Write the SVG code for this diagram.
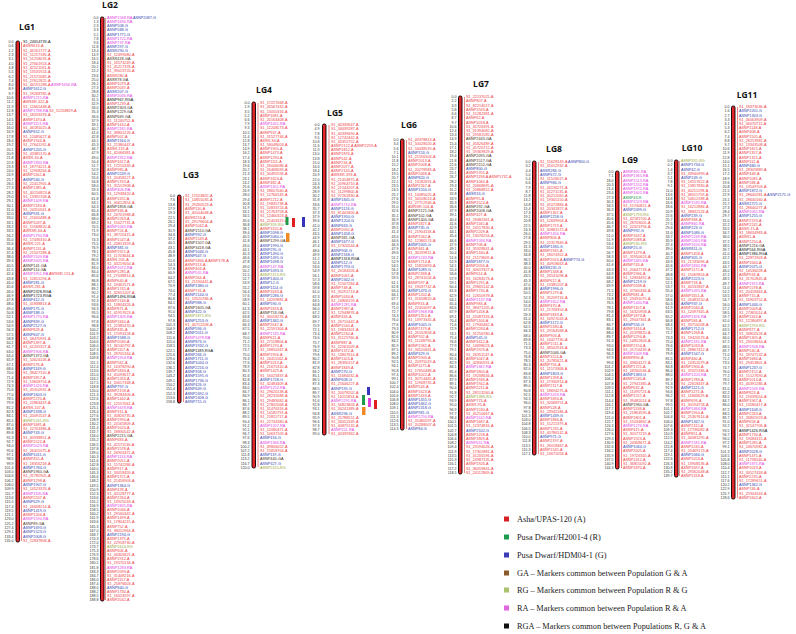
<svg xmlns="http://www.w3.org/2000/svg" width="796" height="634" viewBox="0 0 796 634">
<style>
.t{font-family:"Open Sans","Liberation Sans",sans-serif;font-weight:bold;font-size:8.5px;fill:#111;text-anchor:middle}
.N{font-family:"Liberation Sans",Arial,sans-serif;font-size:3.6px;fill:#333;text-anchor:end}
.L{font-family:"Liberation Sans",Arial,sans-serif;font-size:3.8px;fill:#ee3a3f}
.b{fill:#3a3fb0}.m{fill:#e03de0}.k{fill:#111}.o{fill:#9aa63a}.g{fill:#23974a}.c{fill:#4a2e16}
.bar{fill:#e2262c;stroke:#000;stroke-width:0.9}
.cn{stroke:#e8383d;stroke-width:0.6}
.lg{font-family:"Liberation Serif","Times New Roman",serif;font-size:8.3px;fill:#222}
</style>
<rect width="796" height="634" fill="#fff"/>
<g id="connectors">
<line class="cn" x1="21.5" y1="42" x2="21.5" y2="541"/>
<line class="cn" x1="105.5" y1="18" x2="105.5" y2="600"/>
<line class="cn" x1="183.5" y1="196" x2="183.5" y2="402"/>
<line class="cn" x1="258" y1="103" x2="258" y2="467"/>
<line class="cn" x1="329" y1="125" x2="329" y2="434"/>
<line class="cn" x1="406.5" y1="140" x2="406.5" y2="429"/>
<line class="cn" x1="464.5" y1="97" x2="464.5" y2="473"/>
<line class="cn" x1="538.5" y1="162" x2="538.5" y2="454"/>
<line class="cn" x1="621.5" y1="172" x2="621.5" y2="468"/>
<line class="cn" x1="679.5" y1="161" x2="679.5" y2="476"/>
<line class="cn" x1="737.5" y1="107" x2="737.5" y2="498"/>
</g>
<g id="lg1">
<text class="t" x="27" y="30">LG1</text>
<rect class="bar" x="16" y="41" width="3.5" height="501" rx="1.5"/>
<text class="N" transform="translate(13.5,38.9)"><tspan x="0" dy="4.3">0.0</tspan><tspan x="0" dy="4.3">0.6</tspan><tspan x="0" dy="4.3">1.2</tspan><tspan x="0" dy="4.3">2.3</tspan><tspan x="0" dy="4.3">3.1</tspan><tspan x="0" dy="4.3">4.0</tspan><tspan x="0" dy="4.3">4.8</tspan><tspan x="0" dy="4.3">5.5</tspan><tspan x="0" dy="4.3">6.2</tspan><tspan x="0" dy="4.3">7.4</tspan><tspan x="0" dy="4.3">8.0</tspan><tspan x="0" dy="4.3">8.9</tspan><tspan x="0" dy="4.3">9.7</tspan><tspan x="0" dy="4.3">10.6</tspan><tspan x="0" dy="4.3">11.2</tspan><tspan x="0" dy="4.3">11.9</tspan><tspan x="0" dy="4.3">12.8</tspan><tspan x="0" dy="4.3">13.7</tspan><tspan x="0" dy="4.3">14.5</tspan><tspan x="0" dy="4.3">15.2</tspan><tspan x="0" dy="4.3">16.0</tspan><tspan x="0" dy="4.3">16.9</tspan><tspan x="0" dy="4.3">17.8</tspan><tspan x="0" dy="4.3">18.4</tspan><tspan x="0" dy="4.3">19.2</tspan><tspan x="0" dy="4.3">20.1</tspan><tspan x="0" dy="4.3">20.9</tspan><tspan x="0" dy="4.3">21.8</tspan><tspan x="0" dy="4.3">22.6</tspan><tspan x="0" dy="4.3">23.3</tspan><tspan x="0" dy="4.3">24.0</tspan><tspan x="0" dy="4.3">24.9</tspan><tspan x="0" dy="4.3">25.7</tspan><tspan x="0" dy="4.3">26.5</tspan><tspan x="0" dy="4.3">27.3</tspan><tspan x="0" dy="4.3">28.2</tspan><tspan x="0" dy="4.3">29.0</tspan><tspan x="0" dy="4.3">29.1</tspan><tspan x="0" dy="4.3">30.1</tspan><tspan x="0" dy="4.3">31.0</tspan><tspan x="0" dy="4.3">32.0</tspan><tspan x="0" dy="4.3">33.0</tspan><tspan x="0" dy="4.3">33.1</tspan><tspan x="0" dy="4.3">33.2</tspan><tspan x="0" dy="4.3">33.5</tspan><tspan x="0" dy="4.3">34.2</tspan><tspan x="0" dy="4.3">35.0</tspan><tspan x="0" dy="4.3">35.6</tspan><tspan x="0" dy="4.3">36.4</tspan><tspan x="0" dy="4.3">37.4</tspan><tspan x="0" dy="4.3">38.0</tspan><tspan x="0" dy="4.3">39.3</tspan><tspan x="0" dy="4.3">40.5</tspan><tspan x="0" dy="4.3">41.5</tspan><tspan x="0" dy="4.3">42.4</tspan><tspan x="0" dy="4.3">43.8</tspan><tspan x="0" dy="4.3">44.0</tspan><tspan x="0" dy="4.3">45.6</tspan><tspan x="0" dy="4.3">46.0</tspan><tspan x="0" dy="4.3">46.9</tspan><tspan x="0" dy="4.3">47.8</tspan><tspan x="0" dy="4.3">48.0</tspan><tspan x="0" dy="4.3">49.0</tspan><tspan x="0" dy="4.3">50.8</tspan><tspan x="0" dy="4.3">52.1</tspan><tspan x="0" dy="4.3">53.6</tspan><tspan x="0" dy="4.3">54.9</tspan><tspan x="0" dy="4.3">56.3</tspan><tspan x="0" dy="4.3">57.5</tspan><tspan x="0" dy="4.3">58.8</tspan><tspan x="0" dy="4.3">60.2</tspan><tspan x="0" dy="4.3">61.7</tspan><tspan x="0" dy="4.3">63.0</tspan><tspan x="0" dy="4.3">64.4</tspan><tspan x="0" dy="4.3">65.9</tspan><tspan x="0" dy="4.3">67.1</tspan><tspan x="0" dy="4.3">68.6</tspan><tspan x="0" dy="4.3">70.0</tspan><tspan x="0" dy="4.3">71.4</tspan><tspan x="0" dy="4.3">72.9</tspan><tspan x="0" dy="4.3">74.3</tspan><tspan x="0" dy="4.3">75.6</tspan><tspan x="0" dy="4.3">77.0</tspan><tspan x="0" dy="4.3">78.5</tspan><tspan x="0" dy="4.3">79.9</tspan><tspan x="0" dy="4.3">81.2</tspan><tspan x="0" dy="4.3">82.8</tspan><tspan x="0" dy="4.3">84.1</tspan><tspan x="0" dy="4.3">85.5</tspan><tspan x="0" dy="4.3">87.0</tspan><tspan x="0" dy="4.3">88.4</tspan><tspan x="0" dy="4.3">89.8</tspan><tspan x="0" dy="4.3">91.3</tspan><tspan x="0" dy="4.3">92.7</tspan><tspan x="0" dy="4.3">94.0</tspan><tspan x="0" dy="4.3">95.6</tspan><tspan x="0" dy="4.3">97.1</tspan><tspan x="0" dy="4.3">98.5</tspan><tspan x="0" dy="4.3">99.9</tspan><tspan x="0" dy="4.3">101.4</tspan><tspan x="0" dy="4.3">103.0</tspan><tspan x="0" dy="4.3">104.6</tspan><tspan x="0" dy="4.3">106.2</tspan><tspan x="0" dy="4.3">108.0</tspan><tspan x="0" dy="4.3">109.9</tspan><tspan x="0" dy="4.3">111.7</tspan><tspan x="0" dy="4.3">113.6</tspan><tspan x="0" dy="4.3">115.5</tspan><tspan x="0" dy="4.3">117.4</tspan><tspan x="0" dy="4.3">119.5</tspan><tspan x="0" dy="4.3">121.1</tspan><tspan x="0" dy="4.3">123.0</tspan><tspan x="0" dy="4.3">125.2</tspan><tspan x="0" dy="4.3">127.4</tspan><tspan x="0" dy="4.3">129.1</tspan><tspan x="0" dy="4.3">133.4</tspan><tspan x="0" dy="4.3">135.0</tspan></text>
<text class="L" transform="translate(23,38.9)">
<tspan x="0" dy="4.3" class="k">S1_24654739-A</tspan>
<tspan x="0" dy="4.3">ASSR613-A</tspan>
<tspan x="0" dy="4.3">S1_46161727-A</tspan>
<tspan x="0" dy="4.3">S1_51257180-A</tspan>
<tspan x="0" dy="4.3">S1_51258076-A</tspan>
<tspan x="0" dy="4.3">S1_27601924-A</tspan>
<tspan x="0" dy="4.3">S1_42521161-A</tspan>
<tspan x="0" dy="4.3">S1_13531924-A</tspan>
<tspan x="0" dy="4.3">S1_21572082-A</tspan>
<tspan x="0" dy="4.3">S1_27612825-A</tspan>
<tspan x="0" dy="4.3">S1_46191288-A <tspan class="m">ASNP1656-RA</tspan></tspan>
<tspan x="0" dy="4.3" class="b">ASNP1612-G</tspan>
<tspan x="0" dy="4.3">S1_19268785-A</tspan>
<tspan x="0" dy="4.3" class="m">ASNP1215-RA</tspan>
<tspan x="0" dy="4.3">AWSSR-322-A</tspan>
<tspan x="0" dy="4.3">S1_12665448-A</tspan>
<tspan x="0" dy="4.3"><tspan class="m">ASNP1788-RA</tspan> S1_51258829-A</tspan>
<tspan x="0" dy="4.3">S1_18203376-A</tspan>
<tspan x="0" dy="4.3">ASNP1470-A</tspan>
<tspan x="0" dy="4.3" class="m">ASNP1151-RA</tspan>
<tspan x="0" dy="4.3">S1_46181025-A</tspan>
<tspan x="0" dy="4.3" class="b">ASNP652-G</tspan>
<tspan x="0" dy="4.3">S1_12085627-A</tspan>
<tspan x="0" dy="4.3">ASNP1944-A</tspan>
<tspan x="0" dy="4.3">S1_27641192-A</tspan>
<tspan x="0" dy="4.3" class="b">ASNP1205-G</tspan>
<tspan x="0" dy="4.3">S1_43385170-A</tspan>
<tspan x="0" dy="4.3">ASSR-30-A</tspan>
<tspan x="0" dy="4.3" class="m">ASNP1830-RA</tspan>
<tspan x="0" dy="4.3">S1_18774221-A</tspan>
<tspan x="0" dy="4.3">S1_12908264-A</tspan>
<tspan x="0" dy="4.3">ASNP1162-A</tspan>
<tspan x="0" dy="4.3" class="b">ASNP540-G</tspan>
<tspan x="0" dy="4.3">S1_22412905-A</tspan>
<tspan x="0" dy="4.3">ASNP1385-A</tspan>
<tspan x="0" dy="4.3">S1_40156823-A</tspan>
<tspan x="0" dy="4.3">S1_13392708-A</tspan>
<tspan x="0" dy="4.3" class="m">ASNP1409-RA</tspan>
<tspan x="0" dy="4.3">ASNP2184-A</tspan>
<tspan x="0" dy="4.3">S1_24310561-A</tspan>
<tspan x="0" dy="4.3" class="b">ASNP931-G</tspan>
<tspan x="0" dy="4.3">S1_21600488-A</tspan>
<tspan x="0" dy="4.3">ASNP1037-A</tspan>
<tspan x="0" dy="4.3">S1_15568820-A</tspan>
<tspan x="0" dy="4.3">AWSSR-66-A</tspan>
<tspan x="0" dy="4.3" class="m">ASNP1790-RA</tspan>
<tspan x="0" dy="4.3">S1_17436310-A</tspan>
<tspan x="0" dy="4.3">ASSR-221-A</tspan>
<tspan x="0" dy="4.3">ASNP1231-A</tspan>
<tspan x="0" dy="4.3">S1_21507288-A</tspan>
<tspan x="0" dy="4.3" class="m">ASNP2109-RA</tspan>
<tspan x="0" dy="4.3" class="m">ASNP2005-RA</tspan>
<tspan x="0" dy="4.3" class="c">ASNP141-GA</tspan>
<tspan x="0" dy="4.3" class="c">ASNP114-GA</tspan>
<tspan x="0" dy="4.3"><tspan class="m">ASNP1951-RA</tspan> AWSSR-151-A</tspan>
<tspan x="0" dy="4.3">S1_12651294-A</tspan>
<tspan x="0" dy="4.3" class="b">ASNP281-G</tspan>
<tspan x="0" dy="4.3">ASSR-281-A</tspan>
<tspan x="0" dy="4.3" class="k">ASNP2328-RGA</tspan>
<tspan x="0" dy="4.3" class="k">ASNP1723-RGA</tspan>
<tspan x="0" dy="4.3" class="b">ASNP412-G</tspan>
<tspan x="0" dy="4.3">S1_41838813-A</tspan>
<tspan x="0" dy="4.3" class="b">ASNP175-G</tspan>
<tspan x="0" dy="4.3" class="b">ASNP188-G</tspan>
<tspan x="0" dy="4.3" class="m">ASNP1770-RA</tspan>
<tspan x="0" dy="4.3" class="b">ASNP839-G</tspan>
<tspan x="0" dy="4.3" class="b">ASNP2127-G</tspan>
<tspan x="0" dy="4.3">ASNP828-A</tspan>
<tspan x="0" dy="4.3" class="b">ASNP607-G</tspan>
<tspan x="0" dy="4.3">S1_58470991-A</tspan>
<tspan x="0" dy="4.3">ASNP1397-A</tspan>
<tspan x="0" dy="4.3">S1_61205327-A</tspan>
<tspan x="0" dy="4.3" class="m">ASNP1906-RA</tspan>
<tspan x="0" dy="4.3" class="c">ASNP1372-GA</tspan>
<tspan x="0" dy="4.3">S1_10624118-A</tspan>
<tspan x="0" dy="4.3">ASNP276-A</tspan>
<tspan x="0" dy="4.3" class="b">ASNP1149-G</tspan>
<tspan x="0" dy="4.3">S1_38427110-A</tspan>
<tspan x="0" dy="4.3">ASNP1857-A</tspan>
<tspan x="0" dy="4.3">S1_13608754-A</tspan>
<tspan x="0" dy="4.3" class="m">ASNP1426-RA</tspan>
<tspan x="0" dy="4.3">S1_45310932-A</tspan>
<tspan x="0" dy="4.3" class="b">ASNP1603-G</tspan>
<tspan x="0" dy="4.3">ASNP2270-A</tspan>
<tspan x="0" dy="4.3">S1_22864419-A</tspan>
<tspan x="0" dy="4.3">ASSR-107-A</tspan>
<tspan x="0" dy="4.3" class="b">ASNP1338-G</tspan>
<tspan x="0" dy="4.3">S1_20091547-A</tspan>
<tspan x="0" dy="4.3" class="o">ASNP1241-RG</tspan>
<tspan x="0" dy="4.3">ASNP1681-A</tspan>
<tspan x="0" dy="4.3">S1_12703386-A</tspan>
<tspan x="0" dy="4.3" class="b">ASNP743-G</tspan>
<tspan x="0" dy="4.3">S1_40938851-A</tspan>
<tspan x="0" dy="4.3">ASNP1522-A</tspan>
<tspan x="0" dy="4.3" class="m">ASNP2023-RA</tspan>
<tspan x="0" dy="4.3">S1_26411075-A</tspan>
<tspan x="0" dy="4.3" class="b">ASNP1011-G</tspan>
<tspan x="0" dy="4.3">ASNP455-A</tspan>
<tspan x="0" dy="4.3">S1_18356218-A</tspan>
<tspan x="0" dy="4.3" class="b">ASNP1784-G</tspan>
<tspan x="0" dy="4.3" class="c">ASNP1960-GA</tspan>
<tspan x="0" dy="4.3">S1_31782905-A</tspan>
<tspan x="0" dy="4.3">ASNP1298-A</tspan>
<tspan x="0" dy="4.3" class="b">ASNP1907-G</tspan>
<tspan x="0" dy="4.3">S1_14523376-A</tspan>
<tspan x="0" dy="4.3" class="m">ASNP1116-RA</tspan>
<tspan x="0" dy="4.3">ASNP2207-A</tspan>
<tspan x="0" dy="4.3" class="b">ASNP629-G</tspan>
<tspan x="0" dy="4.3">S1_16608214-A</tspan>
<tspan x="0" dy="4.3" class="b">ASNP1419-G</tspan>
<tspan x="0" dy="4.3">ASNP1204-A</tspan>
<tspan x="0" dy="4.3" class="m">ASNP1590-RA</tspan>
<tspan x="0" dy="4.3" class="c">ASNP89-GA</tspan>
<tspan x="0" dy="4.3" class="b">ASNP1693-G</tspan>
<tspan x="0" dy="4.3" class="b">ASNP1523-G</tspan>
<tspan x="0" dy="4.3" class="b">ASNP2008-G</tspan>
<tspan x="0" dy="4.3">S1_12837808-A</tspan>
</text>
</g>
<g id="lg2">
<text class="t" x="110" y="8">LG2</text>
<rect class="bar" x="100.5" y="17" width="3.5" height="584" rx="1.5"/>
<text class="N" transform="translate(98.5,15.1)"><tspan x="0" dy="4.1">0.0</tspan><tspan x="0" dy="4.1">1.3</tspan><tspan x="0" dy="4.1">2.3</tspan><tspan x="0" dy="4.1">3.3</tspan><tspan x="0" dy="4.1">5.1</tspan><tspan x="0" dy="4.1">7.8</tspan><tspan x="0" dy="4.1">9.6</tspan><tspan x="0" dy="4.1">11.8</tspan><tspan x="0" dy="4.1">13.4</tspan><tspan x="0" dy="4.1">14.9</tspan><tspan x="0" dy="4.1">16.5</tspan><tspan x="0" dy="4.1">18.4</tspan><tspan x="0" dy="4.1">20.1</tspan><tspan x="0" dy="4.1">22.2</tspan><tspan x="0" dy="4.1">23.6</tspan><tspan x="0" dy="4.1">25.0</tspan><tspan x="0" dy="4.1">26.1</tspan><tspan x="0" dy="4.1">27.3</tspan><tspan x="0" dy="4.1">28.8</tspan><tspan x="0" dy="4.1">30.2</tspan><tspan x="0" dy="4.1">31.5</tspan><tspan x="0" dy="4.1">32.9</tspan><tspan x="0" dy="4.1">34.0</tspan><tspan x="0" dy="4.1">35.3</tspan><tspan x="0" dy="4.1">36.6</tspan><tspan x="0" dy="4.1">37.9</tspan><tspan x="0" dy="4.1">39.1</tspan><tspan x="0" dy="4.1">40.2</tspan><tspan x="0" dy="4.1">41.6</tspan><tspan x="0" dy="4.1">42.8</tspan><tspan x="0" dy="4.1">44.1</tspan><tspan x="0" dy="4.1">45.3</tspan><tspan x="0" dy="4.1">46.7</tspan><tspan x="0" dy="4.1">47.9</tspan><tspan x="0" dy="4.1">49.0</tspan><tspan x="0" dy="4.1">50.4</tspan><tspan x="0" dy="4.1">51.7</tspan><tspan x="0" dy="4.1">52.9</tspan><tspan x="0" dy="4.1">54.2</tspan><tspan x="0" dy="4.1">55.6</tspan><tspan x="0" dy="4.1">56.8</tspan><tspan x="0" dy="4.1">58.0</tspan><tspan x="0" dy="4.1">59.3</tspan><tspan x="0" dy="4.1">60.5</tspan><tspan x="0" dy="4.1">61.8</tspan><tspan x="0" dy="4.1">63.1</tspan><tspan x="0" dy="4.1">64.3</tspan><tspan x="0" dy="4.1">65.4</tspan><tspan x="0" dy="4.1">66.8</tspan><tspan x="0" dy="4.1">68.0</tspan><tspan x="0" dy="4.1">69.2</tspan><tspan x="0" dy="4.1">70.5</tspan><tspan x="0" dy="4.1">71.9</tspan><tspan x="0" dy="4.1">73.0</tspan><tspan x="0" dy="4.1">74.3</tspan><tspan x="0" dy="4.1">75.5</tspan><tspan x="0" dy="4.1">76.9</tspan><tspan x="0" dy="4.1">78.1</tspan><tspan x="0" dy="4.1">79.2</tspan><tspan x="0" dy="4.1">80.6</tspan><tspan x="0" dy="4.1">81.9</tspan><tspan x="0" dy="4.1">83.0</tspan><tspan x="0" dy="4.1">84.4</tspan><tspan x="0" dy="4.1">85.6</tspan><tspan x="0" dy="4.1">86.8</tspan><tspan x="0" dy="4.1">88.1</tspan><tspan x="0" dy="4.1">89.2</tspan><tspan x="0" dy="4.1">90.2</tspan><tspan x="0" dy="4.1">91.4</tspan><tspan x="0" dy="4.1">92.3</tspan><tspan x="0" dy="4.1">93.6</tspan><tspan x="0" dy="4.1">94.3</tspan><tspan x="0" dy="4.1">95.5</tspan><tspan x="0" dy="4.1">96.6</tspan><tspan x="0" dy="4.1">97.8</tspan><tspan x="0" dy="4.1">98.8</tspan><tspan x="0" dy="4.1">100.2</tspan><tspan x="0" dy="4.1">101.9</tspan><tspan x="0" dy="4.1">103.2</tspan><tspan x="0" dy="4.1">104.6</tspan><tspan x="0" dy="4.1">106.0</tspan><tspan x="0" dy="4.1">107.3</tspan><tspan x="0" dy="4.1">108.5</tspan><tspan x="0" dy="4.1">109.8</tspan><tspan x="0" dy="4.1">111.1</tspan><tspan x="0" dy="4.1">112.4</tspan><tspan x="0" dy="4.1">113.6</tspan><tspan x="0" dy="4.1">115.0</tspan><tspan x="0" dy="4.1">116.2</tspan><tspan x="0" dy="4.1">117.5</tspan><tspan x="0" dy="4.1">118.8</tspan><tspan x="0" dy="4.1">120.0</tspan><tspan x="0" dy="4.1">121.3</tspan><tspan x="0" dy="4.1">122.6</tspan><tspan x="0" dy="4.1">123.8</tspan><tspan x="0" dy="4.1">125.1</tspan><tspan x="0" dy="4.1">126.4</tspan><tspan x="0" dy="4.1">127.6</tspan><tspan x="0" dy="4.1">128.9</tspan><tspan x="0" dy="4.1">130.2</tspan><tspan x="0" dy="4.1">131.4</tspan><tspan x="0" dy="4.1">132.7</tspan><tspan x="0" dy="4.1">134.0</tspan><tspan x="0" dy="4.1">135.2</tspan><tspan x="0" dy="4.1">136.5</tspan><tspan x="0" dy="4.1">137.8</tspan><tspan x="0" dy="4.1">139.0</tspan><tspan x="0" dy="4.1">140.3</tspan><tspan x="0" dy="4.1">141.6</tspan><tspan x="0" dy="4.1">142.8</tspan><tspan x="0" dy="4.1">144.0</tspan><tspan x="0" dy="4.1">145.3</tspan><tspan x="0" dy="4.1">146.6</tspan><tspan x="0" dy="4.1">148.2</tspan><tspan x="0" dy="4.1">149.5</tspan><tspan x="0" dy="4.1">150.9</tspan><tspan x="0" dy="4.1">152.3</tspan><tspan x="0" dy="4.1">153.6</tspan><tspan x="0" dy="4.1">155.2</tspan><tspan x="0" dy="4.1">156.9</tspan><tspan x="0" dy="4.1">158.5</tspan><tspan x="0" dy="4.1">160.2</tspan><tspan x="0" dy="4.1">161.9</tspan><tspan x="0" dy="4.1">163.6</tspan><tspan x="0" dy="4.1">165.3</tspan><tspan x="0" dy="4.1">167.0</tspan><tspan x="0" dy="4.1">168.7</tspan><tspan x="0" dy="4.1">170.3</tspan><tspan x="0" dy="4.1">172.0</tspan><tspan x="0" dy="4.1">173.7</tspan><tspan x="0" dy="4.1">175.3</tspan><tspan x="0" dy="4.1">176.9</tspan><tspan x="0" dy="4.1">178.6</tspan><tspan x="0" dy="4.1">180.2</tspan><tspan x="0" dy="4.1">181.8</tspan><tspan x="0" dy="4.1">183.3</tspan><tspan x="0" dy="4.1">184.7</tspan><tspan x="0" dy="4.1">186.0</tspan><tspan x="0" dy="4.1">187.4</tspan><tspan x="0" dy="4.1">188.0</tspan><tspan x="0" dy="4.1">188.2</tspan><tspan x="0" dy="4.1">188.5</tspan><tspan x="0" dy="4.1">188.8</tspan></text>
<text class="L" transform="translate(107,15.1)">
<tspan x="0" dy="4.1"><tspan class="m">ASNP1568-RA</tspan> <tspan class="b">ASNP2087-G</tspan></tspan>
<tspan x="0" dy="4.1" class="m">ASNP1696-RA</tspan>
<tspan x="0" dy="4.1" class="b">ASNP508-G</tspan>
<tspan x="0" dy="4.1" class="b">ASNP588-G</tspan>
<tspan x="0" dy="4.1" class="b">ASNP1771-G</tspan>
<tspan x="0" dy="4.1" class="m">ASNP1722-RA</tspan>
<tspan x="0" dy="4.1" class="m">ASNP737-RA</tspan>
<tspan x="0" dy="4.1" class="b">ASNP297-G</tspan>
<tspan x="0" dy="4.1" class="b">ASSR290-G</tspan>
<tspan x="0" dy="4.1">S1_12499080-A</tspan>
<tspan x="0" dy="4.1" class="c">ASSR418-GA</tspan>
<tspan x="0" dy="4.1">S1_16573249-A</tspan>
<tspan x="0" dy="4.1">S1_45217376-A</tspan>
<tspan x="0" dy="4.1">S1_39013720-A</tspan>
<tspan x="0" dy="4.1">ASSR280-A</tspan>
<tspan x="0" dy="4.1" class="c">ASSR78-GA</tspan>
<tspan x="0" dy="4.1">ASNP1079-A</tspan>
<tspan x="0" dy="4.1">ASNP2037-A</tspan>
<tspan x="0" dy="4.1" class="b">ASSR207-G</tspan>
<tspan x="0" dy="4.1" class="m">ASNP2036-RA</tspan>
<tspan x="0" dy="4.1" class="k">ASNP967-RGA</tspan>
<tspan x="0" dy="4.1">ASNP1239-A</tspan>
<tspan x="0" dy="4.1" class="c">ASNP2303-GA</tspan>
<tspan x="0" dy="4.1" class="c">ASNP1229-GA</tspan>
<tspan x="0" dy="4.1" class="c">ASNP669-GA</tspan>
<tspan x="0" dy="4.1">S1_11240752-A</tspan>
<tspan x="0" dy="4.1">ASNP1410-A</tspan>
<tspan x="0" dy="4.1" class="m">ASNP2181-RA</tspan>
<tspan x="0" dy="4.1">S1_38801226-A</tspan>
<tspan x="0" dy="4.1">ASNP502-A</tspan>
<tspan x="0" dy="4.1" class="b">ASNP1164-G</tspan>
<tspan x="0" dy="4.1">S1_21380447-A</tspan>
<tspan x="0" dy="4.1">ASSR-119-A</tspan>
<tspan x="0" dy="4.1">S1_42066381-A</tspan>
<tspan x="0" dy="4.1" class="m">ASNP1352-RA</tspan>
<tspan x="0" dy="4.1">ASNP1617-A</tspan>
<tspan x="0" dy="4.1">S1_17210339-A</tspan>
<tspan x="0" dy="4.1">ASNP985-A</tspan>
<tspan x="0" dy="4.1" class="b">ASNP2249-G</tspan>
<tspan x="0" dy="4.1">S1_20458127-A</tspan>
<tspan x="0" dy="4.1">ASNP1703-A</tspan>
<tspan x="0" dy="4.1">S1_35512908-A</tspan>
<tspan x="0" dy="4.1" class="m">ASNP406-RA</tspan>
<tspan x="0" dy="4.1">S1_12938420-A</tspan>
<tspan x="0" dy="4.1">ASNP1192-A</tspan>
<tspan x="0" dy="4.1">S1_40612854-A</tspan>
<tspan x="0" dy="4.1" class="c">ASNP1858-GA</tspan>
<tspan x="0" dy="4.1">ASNP336-A</tspan>
<tspan x="0" dy="4.1">S1_24701988-A</tspan>
<tspan x="0" dy="4.1">ASNP2263-A</tspan>
<tspan x="0" dy="4.1">S1_15027731-A</tspan>
<tspan x="0" dy="4.1" class="m">ASNP1063-RA</tspan>
<tspan x="0" dy="4.1">ASNP724-A</tspan>
<tspan x="0" dy="4.1">S1_38720415-A</tspan>
<tspan x="0" dy="4.1">ASNP1547-A</tspan>
<tspan x="0" dy="4.1">S1_20813359-A</tspan>
<tspan x="0" dy="4.1" class="b">ASNP381-G</tspan>
<tspan x="0" dy="4.1">ASNP1921-A</tspan>
<tspan x="0" dy="4.1">S1_11703644-A</tspan>
<tspan x="0" dy="4.1">ASSR-205-A</tspan>
<tspan x="0" dy="4.1">S1_43219050-A</tspan>
<tspan x="0" dy="4.1" class="m">ASNP2072-RA</tspan>
<tspan x="0" dy="4.1">ASNP1285-A</tspan>
<tspan x="0" dy="4.1">S1_27038814-A</tspan>
<tspan x="0" dy="4.1">ASNP640-A</tspan>
<tspan x="0" dy="4.1">S1_19462571-A</tspan>
<tspan x="0" dy="4.1">ASNP1745-A</tspan>
<tspan x="0" dy="4.1">S1_32651207-A</tspan>
<tspan x="0" dy="4.1" class="k">ASNP1496-RGA</tspan>
<tspan x="0" dy="4.1">ASNP2118-A</tspan>
<tspan x="0" dy="4.1">S1_13804326-A</tspan>
<tspan x="0" dy="4.1">ASNP871-A</tspan>
<tspan x="0" dy="4.1">S1_41957623-A</tspan>
<tspan x="0" dy="4.1" class="m">ASNP1309-RA</tspan>
<tspan x="0" dy="4.1">ASNP1660-A</tspan>
<tspan x="0" dy="4.1">S1_22385470-A</tspan>
<tspan x="0" dy="4.1">ASNP435-A</tspan>
<tspan x="0" dy="4.1">S1_17093158-A</tspan>
<tspan x="0" dy="4.1" class="b">ASNP1588-G</tspan>
<tspan x="0" dy="4.1">ASNP2030-A</tspan>
<tspan x="0" dy="4.1">S1_36140792-A</tspan>
<tspan x="0" dy="4.1">ASNP1117-A</tspan>
<tspan x="0" dy="4.1">S1_28705164-A</tspan>
<tspan x="0" dy="4.1" class="m">ASNP1954-RA</tspan>
<tspan x="0" dy="4.1">ASNP562-A</tspan>
<tspan x="0" dy="4.1">S1_14378290-A</tspan>
<tspan x="0" dy="4.1">ASNP1834-A</tspan>
<tspan x="0" dy="4.1">S1_45093617-A</tspan>
<tspan x="0" dy="4.1">ASNP1263-A</tspan>
<tspan x="0" dy="4.1">S1_20617348-A</tspan>
<tspan x="0" dy="4.1" class="b">ASNP797-G</tspan>
<tspan x="0" dy="4.1">ASNP2158-A</tspan>
<tspan x="0" dy="4.1">S1_39284406-A</tspan>
<tspan x="0" dy="4.1">ASNP1442-A</tspan>
<tspan x="0" dy="4.1">S1_12557061-A</tspan>
<tspan x="0" dy="4.1" class="m">ASNP1678-RA</tspan>
<tspan x="0" dy="4.1">ASNP311-A</tspan>
<tspan x="0" dy="4.1">S1_30826735-A</tspan>
<tspan x="0" dy="4.1">ASNP1990-A</tspan>
<tspan x="0" dy="4.1">S1_24165809-A</tspan>
<tspan x="0" dy="4.1">ASNP1024-A</tspan>
<tspan x="0" dy="4.1">S1_18830542-A</tspan>
<tspan x="0" dy="4.1" class="c">ASNP2215-GA</tspan>
<tspan x="0" dy="4.1">ASNP683-A</tspan>
<tspan x="0" dy="4.1">S1_42571130-A</tspan>
<tspan x="0" dy="4.1">ASNP1578-A</tspan>
<tspan x="0" dy="4.1">S1_26903471-A</tspan>
<tspan x="0" dy="4.1" class="m">ASNP1133-RA</tspan>
<tspan x="0" dy="4.1">ASNP2051-A</tspan>
<tspan x="0" dy="4.1">S1_15742286-A</tspan>
<tspan x="0" dy="4.1">ASNP917-A</tspan>
<tspan x="0" dy="4.1">S1_33018459-A</tspan>
<tspan x="0" dy="4.1">ASNP1721-A</tspan>
<tspan x="0" dy="4.1">S1_21456903-A</tspan>
<tspan x="0" dy="4.1" class="b">ASNP1364-G</tspan>
<tspan x="0" dy="4.1">ASNP478-A</tspan>
<tspan x="0" dy="4.1">S1_40128777-A</tspan>
<tspan x="0" dy="4.1">ASNP2264-A</tspan>
<tspan x="0" dy="4.1">S1_13925018-A</tspan>
<tspan x="0" dy="4.1" class="m">ASNP1805-RA</tspan>
<tspan x="0" dy="4.1">ASNP1046-A</tspan>
<tspan x="0" dy="4.1">S1_29560342-A</tspan>
<tspan x="0" dy="4.1">ASNP1499-A</tspan>
<tspan x="0" dy="4.1">S1_17804215-A</tspan>
<tspan x="0" dy="4.1">ASNP752-A</tspan>
<tspan x="0" dy="4.1">S1_38012964-A</tspan>
<tspan x="0" dy="4.1" class="b">ASNP2194-G</tspan>
<tspan x="0" dy="4.1">ASNP1375-A</tspan>
<tspan x="0" dy="4.1">S1_22918730-A</tspan>
<tspan x="0" dy="4.1" class="o">ASNP1624-RG</tspan>
<tspan x="0" dy="4.1">ASNP606-A</tspan>
<tspan x="0" dy="4.1">S1_44305821-A</tspan>
<tspan x="0" dy="4.1">ASNP1912-A</tspan>
<tspan x="0" dy="4.1">S1_19570134-A</tspan>
<tspan x="0" dy="4.1" class="m">ASNP1283-RA</tspan>
<tspan x="0" dy="4.1">ASNP2099-A</tspan>
<tspan x="0" dy="4.1">S1_31408216-A</tspan>
<tspan x="0" dy="4.1">ASNP1157-A</tspan>
<tspan x="0" dy="4.1">S1_25876603-A</tspan>
<tspan x="0" dy="4.1" class="b">ASNP840-G</tspan>
<tspan x="0" dy="4.1">ASNP1730-A</tspan>
<tspan x="0" dy="4.1">S1_16024597-A</tspan>
<tspan x="0" dy="4.1">ASNP2042-A</tspan>
</text>
</g>
<g id="lg3">
<text class="t" x="191" y="178">LG3</text>
<rect class="bar" x="177.5" y="195" width="3.5" height="208" rx="1.5"/>
<text class="N" transform="translate(175,192.9)"><tspan x="0" dy="4.29">0.0</tspan><tspan x="0" dy="4.29">7.6</tspan><tspan x="0" dy="4.29">13.8</tspan><tspan x="0" dy="4.29">17.9</tspan><tspan x="0" dy="4.29">19.3</tspan><tspan x="0" dy="4.29">22.5</tspan><tspan x="0" dy="4.29">26.1</tspan><tspan x="0" dy="4.29">29.4</tspan><tspan x="0" dy="4.29">31.9</tspan><tspan x="0" dy="4.29">34.6</tspan><tspan x="0" dy="4.29">37.2</tspan><tspan x="0" dy="4.29">40.5</tspan><tspan x="0" dy="4.29">43.1</tspan><tspan x="0" dy="4.29">45.8</tspan><tspan x="0" dy="4.29">48.9</tspan><tspan x="0" dy="4.29">51.6</tspan><tspan x="0" dy="4.29">54.3</tspan><tspan x="0" dy="4.29">57.8</tspan><tspan x="0" dy="4.29">60.9</tspan><tspan x="0" dy="4.29">64.2</tspan><tspan x="0" dy="4.29">67.5</tspan><tspan x="0" dy="4.29">70.9</tspan><tspan x="0" dy="4.29">74.0</tspan><tspan x="0" dy="4.29">77.4</tspan><tspan x="0" dy="4.29">80.8</tspan><tspan x="0" dy="4.29">84.1</tspan><tspan x="0" dy="4.29">87.6</tspan><tspan x="0" dy="4.29">91.0</tspan><tspan x="0" dy="4.29">94.5</tspan><tspan x="0" dy="4.29">97.8</tspan><tspan x="0" dy="4.29">101.3</tspan><tspan x="0" dy="4.29">104.9</tspan><tspan x="0" dy="4.29">108.2</tspan><tspan x="0" dy="4.29">111.6</tspan><tspan x="0" dy="4.29">115.0</tspan><tspan x="0" dy="4.29">118.5</tspan><tspan x="0" dy="4.29">122.1</tspan><tspan x="0" dy="4.29">125.6</tspan><tspan x="0" dy="4.29">129.0</tspan><tspan x="0" dy="4.29">132.6</tspan><tspan x="0" dy="4.29">136.1</tspan><tspan x="0" dy="4.29">139.7</tspan><tspan x="0" dy="4.29">143.2</tspan><tspan x="0" dy="4.29">149.1</tspan><tspan x="0" dy="4.29">150.2</tspan><tspan x="0" dy="4.29">151.4</tspan><tspan x="0" dy="4.29">152.3</tspan><tspan x="0" dy="4.29">153.6</tspan><tspan x="0" dy="4.29">158.8</tspan></text>
<text class="L" transform="translate(185,192.9)">
<tspan x="0" dy="4.29">S1_17024802-A</tspan>
<tspan x="0" dy="4.29">S1_14855035-A</tspan>
<tspan x="0" dy="4.29">S1_29260529-A</tspan>
<tspan x="0" dy="4.29">ASNP110-A</tspan>
<tspan x="0" dy="4.29">S1_40104048-A</tspan>
<tspan x="0" dy="4.29">ASSR213-A</tspan>
<tspan x="0" dy="4.29">S1_29176604-A</tspan>
<tspan x="0" dy="4.29">ASNP1042-A</tspan>
<tspan x="0" dy="4.29" class="c">ASNP1510-GA</tspan>
<tspan x="0" dy="4.29" class="b">ASNP992-G</tspan>
<tspan x="0" dy="4.29">ASNP1549-A</tspan>
<tspan x="0" dy="4.29" class="c">ASNP1507-GA</tspan>
<tspan x="0" dy="4.29" class="c">ASNP3418-GA</tspan>
<tspan x="0" dy="4.29" class="b">ASNP1046-G</tspan>
<tspan x="0" dy="4.29" class="b">ASNP647-G</tspan>
<tspan x="0" dy="4.29">ASNP1666-A ASNP178-A</tspan>
<tspan x="0" dy="4.29">ASNP313-A</tspan>
<tspan x="0" dy="4.29">ASNP403-A</tspan>
<tspan x="0" dy="4.29" class="m">ASNP505-RA</tspan>
<tspan x="0" dy="4.29">ASNP264-A</tspan>
<tspan x="0" dy="4.29">S1_21190441-A</tspan>
<tspan x="0" dy="4.29" class="b">ASNP1380-G</tspan>
<tspan x="0" dy="4.29">ASNP731-A</tspan>
<tspan x="0" dy="4.29" class="b">ASNP2144-G</tspan>
<tspan x="0" dy="4.29">S1_13520786-A</tspan>
<tspan x="0" dy="4.29" class="b">ASNP988-G</tspan>
<tspan x="0" dy="4.29" class="c">ASNP1605-GA</tspan>
<tspan x="0" dy="4.29" class="b">ASNP422-G</tspan>
<tspan x="0" dy="4.29" class="o">ASNP1871-RG</tspan>
<tspan x="0" dy="4.29" class="b">ASNP1253-G</tspan>
<tspan x="0" dy="4.29">S1_40712208-A</tspan>
<tspan x="0" dy="4.29" class="b">ASNP596-G</tspan>
<tspan x="0" dy="4.29" class="b">ASNP2011-G</tspan>
<tspan x="0" dy="4.29" class="m">ASNP1478-RA</tspan>
<tspan x="0" dy="4.29" class="b">ASNP873-G</tspan>
<tspan x="0" dy="4.29" class="b">ASNP1932-G</tspan>
<tspan x="0" dy="4.29" class="k">ASNP1189-RGA</tspan>
<tspan x="0" dy="4.29" class="b">ASNP266-G</tspan>
<tspan x="0" dy="4.29" class="b">ASNP1711-G</tspan>
<tspan x="0" dy="4.29" class="b">ASNP1044-G</tspan>
<tspan x="0" dy="4.29" class="b">ASNP2216-G</tspan>
<tspan x="0" dy="4.29" class="b">ASNP358-G</tspan>
<tspan x="0" dy="4.29" class="b">ASNP1595-G</tspan>
<tspan x="0" dy="4.29" class="b">ASNP1736-G</tspan>
<tspan x="0" dy="4.29" class="b">ASNP426-G</tspan>
<tspan x="0" dy="4.29" class="b">ASNP649-G</tspan>
<tspan x="0" dy="4.29" class="b">ASNP2492-G</tspan>
<tspan x="0" dy="4.29" class="b">ASNP2408-G</tspan>
<tspan x="0" dy="4.29" class="b">ASNP715-G</tspan>
</text>
</g>
<g id="lg4">
<text class="t" x="264" y="93">LG4</text>
<rect class="bar" x="252" y="102" width="3.5" height="366" rx="1.5"/>
<text class="N" transform="translate(249.5,100)"><tspan x="0" dy="4.19">0.0</tspan><tspan x="0" dy="4.19">1.9</tspan><tspan x="0" dy="4.19">3.5</tspan><tspan x="0" dy="4.19">5.2</tspan><tspan x="0" dy="4.19">6.6</tspan><tspan x="0" dy="4.19">7.9</tspan><tspan x="0" dy="4.19">9.3</tspan><tspan x="0" dy="4.19">10.5</tspan><tspan x="0" dy="4.19">11.4</tspan><tspan x="0" dy="4.19">12.8</tspan><tspan x="0" dy="4.19">13.7</tspan><tspan x="0" dy="4.19">14.9</tspan><tspan x="0" dy="4.19">16.2</tspan><tspan x="0" dy="4.19">17.4</tspan><tspan x="0" dy="4.19">18.3</tspan><tspan x="0" dy="4.19">19.6</tspan><tspan x="0" dy="4.19">20.7</tspan><tspan x="0" dy="4.19">21.3</tspan><tspan x="0" dy="4.19">23.1</tspan><tspan x="0" dy="4.19">24.2</tspan><tspan x="0" dy="4.19">25.6</tspan><tspan x="0" dy="4.19">26.9</tspan><tspan x="0" dy="4.19">28.0</tspan><tspan x="0" dy="4.19">29.4</tspan><tspan x="0" dy="4.19">30.8</tspan><tspan x="0" dy="4.19">31.9</tspan><tspan x="0" dy="4.19">33.1</tspan><tspan x="0" dy="4.19">34.5</tspan><tspan x="0" dy="4.19">35.6</tspan><tspan x="0" dy="4.19">36.8</tspan><tspan x="0" dy="4.19">38.1</tspan><tspan x="0" dy="4.19">39.4</tspan><tspan x="0" dy="4.19">40.5</tspan><tspan x="0" dy="4.19">41.8</tspan><tspan x="0" dy="4.19">43.0</tspan><tspan x="0" dy="4.19">44.1</tspan><tspan x="0" dy="4.19">45.3</tspan><tspan x="0" dy="4.19">46.6</tspan><tspan x="0" dy="4.19">47.8</tspan><tspan x="0" dy="4.19">49.0</tspan><tspan x="0" dy="4.19">50.2</tspan><tspan x="0" dy="4.19">51.5</tspan><tspan x="0" dy="4.19">52.7</tspan><tspan x="0" dy="4.19">53.9</tspan><tspan x="0" dy="4.19">55.2</tspan><tspan x="0" dy="4.19">56.4</tspan><tspan x="0" dy="4.19">57.6</tspan><tspan x="0" dy="4.19">58.9</tspan><tspan x="0" dy="4.19">60.1</tspan><tspan x="0" dy="4.19">61.3</tspan><tspan x="0" dy="4.19">62.5</tspan><tspan x="0" dy="4.19">63.8</tspan><tspan x="0" dy="4.19">65.0</tspan><tspan x="0" dy="4.19">66.3</tspan><tspan x="0" dy="4.19">67.5</tspan><tspan x="0" dy="4.19">68.7</tspan><tspan x="0" dy="4.19">70.0</tspan><tspan x="0" dy="4.19">71.2</tspan><tspan x="0" dy="4.19">72.5</tspan><tspan x="0" dy="4.19">73.7</tspan><tspan x="0" dy="4.19">75.0</tspan><tspan x="0" dy="4.19">76.3</tspan><tspan x="0" dy="4.19">77.6</tspan><tspan x="0" dy="4.19">78.9</tspan><tspan x="0" dy="4.19">80.3</tspan><tspan x="0" dy="4.19">81.6</tspan><tspan x="0" dy="4.19">82.8</tspan><tspan x="0" dy="4.19">83.4</tspan><tspan x="0" dy="4.19">84.0</tspan><tspan x="0" dy="4.19">84.7</tspan><tspan x="0" dy="4.19">84.9</tspan><tspan x="0" dy="4.19">86.1</tspan><tspan x="0" dy="4.19">86.7</tspan><tspan x="0" dy="4.19">87.6</tspan><tspan x="0" dy="4.19">88.2</tspan><tspan x="0" dy="4.19">89.5</tspan><tspan x="0" dy="4.19">90.4</tspan><tspan x="0" dy="4.19">91.2</tspan><tspan x="0" dy="4.19">92.1</tspan><tspan x="0" dy="4.19">96.7</tspan><tspan x="0" dy="4.19">97.6</tspan><tspan x="0" dy="4.19">98.3</tspan><tspan x="0" dy="4.19">100.2</tspan><tspan x="0" dy="4.19">107.2</tspan><tspan x="0" dy="4.19">111.8</tspan><tspan x="0" dy="4.19">113.2</tspan><tspan x="0" dy="4.19">116.7</tspan><tspan x="0" dy="4.19">120.0</tspan></text>
<text class="L" transform="translate(260,100)">
<tspan x="0" dy="4.19">S1_17227068-A</tspan>
<tspan x="0" dy="4.19">S1_26567432-A</tspan>
<tspan x="0" dy="4.19">S1_13050316-A</tspan>
<tspan x="0" dy="4.19">ASNP1681-A</tspan>
<tspan x="0" dy="4.19">S1_20164408-A</tspan>
<tspan x="0" dy="4.19" class="m">ASNP1401-RA</tspan>
<tspan x="0" dy="4.19">S1_12208573-A</tspan>
<tspan x="0" dy="4.19">ASNP937-A</tspan>
<tspan x="0" dy="4.19">S1_31527746-A</tspan>
<tspan x="0" dy="4.19">ASSR-30-A</tspan>
<tspan x="0" dy="4.19">S1_58048003-A</tspan>
<tspan x="0" dy="4.19">ASNP1905-A</tspan>
<tspan x="0" dy="4.19">ASNP1473-A</tspan>
<tspan x="0" dy="4.19">ASNP1290-A</tspan>
<tspan x="0" dy="4.19">ASNP1111-A</tspan>
<tspan x="0" dy="4.19">S1_26046086-A</tspan>
<tspan x="0" dy="4.19">S1_26468099-A</tspan>
<tspan x="0" dy="4.19">S1_30495596-A</tspan>
<tspan x="0" dy="4.19">ASNP1624-A</tspan>
<tspan x="0" dy="4.19">ASNP482-A</tspan>
<tspan x="0" dy="4.19" class="m">ASNP1102-RA</tspan>
<tspan x="0" dy="4.19">S1_18657040-A</tspan>
<tspan x="0" dy="4.19">S1_12766149-A</tspan>
<tspan x="0" dy="4.19">ASNP2212-A</tspan>
<tspan x="0" dy="4.19">S1_19835738-A</tspan>
<tspan x="0" dy="4.19">S1_10833724-A</tspan>
<tspan x="0" dy="4.19">S1_21763758-A</tspan>
<tspan x="0" dy="4.19">S1_12460323-A</tspan>
<tspan x="0" dy="4.19">S1_21403319-A</tspan>
<tspan x="0" dy="4.19" class="o">ASNP359-RG</tspan>
<tspan x="0" dy="4.19">ASNP1150-A</tspan>
<tspan x="0" dy="4.19" class="b">ASNP2098-G</tspan>
<tspan x="0" dy="4.19" class="b">ASNP2060-G</tspan>
<tspan x="0" dy="4.19" class="c">ASNP1299-GA</tspan>
<tspan x="0" dy="4.19" class="b">ASNP1990-G</tspan>
<tspan x="0" dy="4.19" class="b">ASNP295-G</tspan>
<tspan x="0" dy="4.19" class="b">ASNP1490-G</tspan>
<tspan x="0" dy="4.19" class="b">ASNP1495-G</tspan>
<tspan x="0" dy="4.19" class="b">ASNP1098-G</tspan>
<tspan x="0" dy="4.19" class="m">ASNP147-RA</tspan>
<tspan x="0" dy="4.19" class="b">ASNP1093-G</tspan>
<tspan x="0" dy="4.19" class="o">ASNP2113-RG</tspan>
<tspan x="0" dy="4.19" class="b">ASNP1400-G</tspan>
<tspan x="0" dy="4.19" class="b">ASNP12-G</tspan>
<tspan x="0" dy="4.19" class="b">ASNP1114-G</tspan>
<tspan x="0" dy="4.19">ASNP1633-A</tspan>
<tspan x="0" dy="4.19" class="b">ASNP2286-G</tspan>
<tspan x="0" dy="4.19">S1_14209881-A</tspan>
<tspan x="0" dy="4.19" class="b">ASNP590-G</tspan>
<tspan x="0" dy="4.19">ASNP1818-A</tspan>
<tspan x="0" dy="4.19" class="c">ASNP753-GA</tspan>
<tspan x="0" dy="4.19">S1_30018276-A</tspan>
<tspan x="0" dy="4.19" class="b">ASNP1362-G</tspan>
<tspan x="0" dy="4.19">ASNP2047-A</tspan>
<tspan x="0" dy="4.19">S1_22591304-A</tspan>
<tspan x="0" dy="4.19" class="m">ASNP1745-RA</tspan>
<tspan x="0" dy="4.19">ASNP611-A</tspan>
<tspan x="0" dy="4.19">S1_27118804-A</tspan>
<tspan x="0" dy="4.19">ASNP1270-A</tspan>
<tspan x="0" dy="4.19">S1_18850347-A</tspan>
<tspan x="0" dy="4.19">ASNP1956-A</tspan>
<tspan x="0" dy="4.19">S1_24411562-A</tspan>
<tspan x="0" dy="4.19">ASNP1013-A</tspan>
<tspan x="0" dy="4.19">S1_21675310-A</tspan>
<tspan x="0" dy="4.19">ASNP1429-A</tspan>
<tspan x="0" dy="4.19">S1_16025837-A</tspan>
<tspan x="0" dy="4.19" class="b">ASNP1728-G</tspan>
<tspan x="0" dy="4.19">S1_32483409-A</tspan>
<tspan x="0" dy="4.19" class="m">ASNP1252-RA</tspan>
<tspan x="0" dy="4.19">S1_29620138-A</tspan>
<tspan x="0" dy="4.19">S1_28231688-A</tspan>
<tspan x="0" dy="4.19">S1_29483082-A</tspan>
<tspan x="0" dy="4.19">S1_27802068-A</tspan>
<tspan x="0" dy="4.19">S1_31476316-A</tspan>
<tspan x="0" dy="4.19">S1_14182791-A</tspan>
<tspan x="0" dy="4.19">S1_15811717-A</tspan>
<tspan x="0" dy="4.19">S1_22744380-A</tspan>
<tspan x="0" dy="4.19" class="m">ASNP1207-RA</tspan>
<tspan x="0" dy="4.19">S1_12080471-A</tspan>
<tspan x="0" dy="4.19">S1_10637109-A</tspan>
<tspan x="0" dy="4.19" class="b">ASNP416-G</tspan>
<tspan x="0" dy="4.19" class="m">ASNP1366-RA</tspan>
<tspan x="0" dy="4.19">S1_49806052-A</tspan>
<tspan x="0" dy="4.19">S1_15818704-A</tspan>
<tspan x="0" dy="4.19" class="b">ASNP119-G</tspan>
<tspan x="0" dy="4.19" class="c">ASNP440-GA</tspan>
<tspan x="0" dy="4.19" class="b">ASNP327-G</tspan>
<tspan x="0" dy="4.19" class="o">ASNP2115-RG</tspan>
</text>
</g>
<g id="lg5">
<text class="t" x="335" y="116">LG5</text>
<rect class="bar" x="322.5" y="124" width="3.5" height="311" rx="1.5"/>
<text class="N" transform="translate(319.5,122)"><tspan x="0" dy="4.18">0.0</tspan><tspan x="0" dy="4.18">4.9</tspan><tspan x="0" dy="4.18">7.8</tspan><tspan x="0" dy="4.18">9.5</tspan><tspan x="0" dy="4.18">10.8</tspan><tspan x="0" dy="4.18">11.6</tspan><tspan x="0" dy="4.18">11.9</tspan><tspan x="0" dy="4.18">13.0</tspan><tspan x="0" dy="4.18">13.8</tspan><tspan x="0" dy="4.18">15.0</tspan><tspan x="0" dy="4.18">16.6</tspan><tspan x="0" dy="4.18">18.4</tspan><tspan x="0" dy="4.18">20.9</tspan><tspan x="0" dy="4.18">22.0</tspan><tspan x="0" dy="4.18">24.3</tspan><tspan x="0" dy="4.18">26.8</tspan><tspan x="0" dy="4.18">28.9</tspan><tspan x="0" dy="4.18">30.2</tspan><tspan x="0" dy="4.18">31.8</tspan><tspan x="0" dy="4.18">33.6</tspan><tspan x="0" dy="4.18">35.7</tspan><tspan x="0" dy="4.18">37.3</tspan><tspan x="0" dy="4.18">37.9</tspan><tspan x="0" dy="4.18">39.6</tspan><tspan x="0" dy="4.18">41.0</tspan><tspan x="0" dy="4.18">42.2</tspan><tspan x="0" dy="4.18">43.5</tspan><tspan x="0" dy="4.18">44.9</tspan><tspan x="0" dy="4.18">46.1</tspan><tspan x="0" dy="4.18">47.4</tspan><tspan x="0" dy="4.18">48.6</tspan><tspan x="0" dy="4.18">49.9</tspan><tspan x="0" dy="4.18">51.2</tspan><tspan x="0" dy="4.18">52.4</tspan><tspan x="0" dy="4.18">53.6</tspan><tspan x="0" dy="4.18">54.9</tspan><tspan x="0" dy="4.18">56.1</tspan><tspan x="0" dy="4.18">57.3</tspan><tspan x="0" dy="4.18">58.6</tspan><tspan x="0" dy="4.18">59.8</tspan><tspan x="0" dy="4.18">61.0</tspan><tspan x="0" dy="4.18">62.3</tspan><tspan x="0" dy="4.18">63.5</tspan><tspan x="0" dy="4.18">64.8</tspan><tspan x="0" dy="4.18">66.0</tspan><tspan x="0" dy="4.18">67.2</tspan><tspan x="0" dy="4.18">68.5</tspan><tspan x="0" dy="4.18">69.7</tspan><tspan x="0" dy="4.18">70.9</tspan><tspan x="0" dy="4.18">72.1</tspan><tspan x="0" dy="4.18">73.4</tspan><tspan x="0" dy="4.18">74.6</tspan><tspan x="0" dy="4.18">75.7</tspan><tspan x="0" dy="4.18">76.9</tspan><tspan x="0" dy="4.18">78.2</tspan><tspan x="0" dy="4.18">79.6</tspan><tspan x="0" dy="4.18">80.2</tspan><tspan x="0" dy="4.18">81.9</tspan><tspan x="0" dy="4.18">82.8</tspan><tspan x="0" dy="4.18">84.2</tspan><tspan x="0" dy="4.18">85.1</tspan><tspan x="0" dy="4.18">86.5</tspan><tspan x="0" dy="4.18">87.3</tspan><tspan x="0" dy="4.18">88.5</tspan><tspan x="0" dy="4.18">89.7</tspan><tspan x="0" dy="4.18">90.9</tspan><tspan x="0" dy="4.18">91.6</tspan><tspan x="0" dy="4.18">92.8</tspan><tspan x="0" dy="4.18">93.1</tspan><tspan x="0" dy="4.18">94.8</tspan><tspan x="0" dy="4.18">95.9</tspan><tspan x="0" dy="4.18">96.6</tspan><tspan x="0" dy="4.18">97.3</tspan><tspan x="0" dy="4.18">98.7</tspan><tspan x="0" dy="4.18">99.0</tspan></text>
<text class="L" transform="translate(331,122)">
<tspan x="0" dy="4.18">S1_40339647-A</tspan>
<tspan x="0" dy="4.18">S1_34639287-A</tspan>
<tspan x="0" dy="4.18">S1_40339690-A</tspan>
<tspan x="0" dy="4.18">S1_12742442-A</tspan>
<tspan x="0" dy="4.18">S1_40355752-A</tspan>
<tspan x="0" dy="4.18">ASNP2122-A ASNP2259-A</tspan>
<tspan x="0" dy="4.18">ASNP1812-A</tspan>
<tspan x="0" dy="4.18">ASNP1876-A</tspan>
<tspan x="0" dy="4.18">ASNP542-A</tspan>
<tspan x="0" dy="4.18">ASNP234-A</tspan>
<tspan x="0" dy="4.18">ASNP2077-A</tspan>
<tspan x="0" dy="4.18">ASNP2145-A</tspan>
<tspan x="0" dy="4.18">AWSSR-393-A</tspan>
<tspan x="0" dy="4.18">S1_21454875-A</tspan>
<tspan x="0" dy="4.18">S1_20964710-A</tspan>
<tspan x="0" dy="4.18">S1_21544207-A</tspan>
<tspan x="0" dy="4.18">S1_11299800-A</tspan>
<tspan x="0" dy="4.18">S1_97261830-A</tspan>
<tspan x="0" dy="4.18" class="b">ASNP1845-G</tspan>
<tspan x="0" dy="4.18" class="m">ASNP1710-RA</tspan>
<tspan x="0" dy="4.18" class="b">ASNP1126-G</tspan>
<tspan x="0" dy="4.18">S1_81441800-A</tspan>
<tspan x="0" dy="4.18" class="b">ASNP1950-G</tspan>
<tspan x="0" dy="4.18" class="b">ASNP1204-G</tspan>
<tspan x="0" dy="4.18" class="b">ASNP663-G</tspan>
<tspan x="0" dy="4.18">ASNP2092-A</tspan>
<tspan x="0" dy="4.18" class="b">ASNP1458-G</tspan>
<tspan x="0" dy="4.18" class="c">ASNP381-GA</tspan>
<tspan x="0" dy="4.18" class="b">ASNP1677-G</tspan>
<tspan x="0" dy="4.18">S1_17320544-A</tspan>
<tspan x="0" dy="4.18" class="b">ASNP906-G</tspan>
<tspan x="0" dy="4.18" class="b">ASNP2168-G</tspan>
<tspan x="0" dy="4.18" class="k">ASNP1318-RGA</tspan>
<tspan x="0" dy="4.18" class="b">ASNP512-G</tspan>
<tspan x="0" dy="4.18" class="b">ASNP1793-G</tspan>
<tspan x="0" dy="4.18">S1_20184326-A</tspan>
<tspan x="0" dy="4.18">ASNP1061-A</tspan>
<tspan x="0" dy="4.18" class="b">ASNP2342-G</tspan>
<tspan x="0" dy="4.18">S1_15507284-A</tspan>
<tspan x="0" dy="4.18">ASNP748-A</tspan>
<tspan x="0" dy="4.18">S1_30291713-A</tspan>
<tspan x="0" dy="4.18">ASNP1634-A</tspan>
<tspan x="0" dy="4.18">S1_24806159-A</tspan>
<tspan x="0" dy="4.18" class="m">ASNP1281-RA</tspan>
<tspan x="0" dy="4.18">ASNP1987-A</tspan>
<tspan x="0" dy="4.18">S1_12948876-A</tspan>
<tspan x="0" dy="4.18">ASNP433-A</tspan>
<tspan x="0" dy="4.18">S1_26710442-A</tspan>
<tspan x="0" dy="4.18">ASNP1540-A</tspan>
<tspan x="0" dy="4.18">S1_19834301-A</tspan>
<tspan x="0" dy="4.18">ASNP2230-A</tspan>
<tspan x="0" dy="4.18">S1_31125760-A</tspan>
<tspan x="0" dy="4.18">ASNP887-A</tspan>
<tspan x="0" dy="4.18">S1_22561009-A</tspan>
<tspan x="0" dy="4.18">ASNP1372-A</tspan>
<tspan x="0" dy="4.18">S1_13807614-A</tspan>
<tspan x="0" dy="4.18">ASNP1103-A</tspan>
<tspan x="0" dy="4.18">S1_28390157-A</tspan>
<tspan x="0" dy="4.18">ASNP1849-A</tspan>
<tspan x="0" dy="4.18" class="b">ASNP270-G</tspan>
<tspan x="0" dy="4.18">S1_11684032-A</tspan>
<tspan x="0" dy="4.18" class="b">ASNP608-G</tspan>
<tspan x="0" dy="4.18">S1_25646227-A</tspan>
<tspan x="0" dy="4.18" class="b">ASNP195-G</tspan>
<tspan x="0" dy="4.18">S1_20078202-A</tspan>
<tspan x="0" dy="4.18">S1_14211814-A</tspan>
<tspan x="0" dy="4.18" class="m">ASNP2291-RA</tspan>
<tspan x="0" dy="4.18">S1_56823803-A</tspan>
<tspan x="0" dy="4.18">S1_30241389-A</tspan>
<tspan x="0" dy="4.18" class="b">ASSR296-G</tspan>
<tspan x="0" dy="4.18">S1_25788551-A</tspan>
<tspan x="0" dy="4.18">S1_34052349-A</tspan>
<tspan x="0" dy="4.18">S1_40875132-A</tspan>
<tspan x="0" dy="4.18" class="m">ASNP151-RA</tspan>
<tspan x="0" dy="4.18">S1_40339362-A</tspan>
</text>
</g>
<g id="lg6">
<text class="t" x="409" y="128">LG6</text>
<rect class="bar" x="400.5" y="139" width="3.5" height="291" rx="1.5"/>
<text class="N" transform="translate(398.5,137)"><tspan x="0" dy="4.19">0.0</tspan><tspan x="0" dy="4.19">3.4</tspan><tspan x="0" dy="4.19">5.6</tspan><tspan x="0" dy="4.19">7.1</tspan><tspan x="0" dy="4.19">10.1</tspan><tspan x="0" dy="4.19">11.8</tspan><tspan x="0" dy="4.19">15.2</tspan><tspan x="0" dy="4.19">18.2</tspan><tspan x="0" dy="4.19">19.5</tspan><tspan x="0" dy="4.19">20.7</tspan><tspan x="0" dy="4.19">22.1</tspan><tspan x="0" dy="4.19">23.5</tspan><tspan x="0" dy="4.19">24.5</tspan><tspan x="0" dy="4.19">25.7</tspan><tspan x="0" dy="4.19">27.6</tspan><tspan x="0" dy="4.19">29.5</tspan><tspan x="0" dy="4.19">31.0</tspan><tspan x="0" dy="4.19">32.6</tspan><tspan x="0" dy="4.19">35.1</tspan><tspan x="0" dy="4.19">36.9</tspan><tspan x="0" dy="4.19">37.8</tspan><tspan x="0" dy="4.19">39.5</tspan><tspan x="0" dy="4.19">41.3</tspan><tspan x="0" dy="4.19">43.0</tspan><tspan x="0" dy="4.19">44.6</tspan><tspan x="0" dy="4.19">46.3</tspan><tspan x="0" dy="4.19">47.9</tspan><tspan x="0" dy="4.19">49.6</tspan><tspan x="0" dy="4.19">51.2</tspan><tspan x="0" dy="4.19">52.9</tspan><tspan x="0" dy="4.19">54.5</tspan><tspan x="0" dy="4.19">56.2</tspan><tspan x="0" dy="4.19">57.8</tspan><tspan x="0" dy="4.19">59.5</tspan><tspan x="0" dy="4.19">61.1</tspan><tspan x="0" dy="4.19">62.8</tspan><tspan x="0" dy="4.19">64.4</tspan><tspan x="0" dy="4.19">66.1</tspan><tspan x="0" dy="4.19">67.7</tspan><tspan x="0" dy="4.19">69.4</tspan><tspan x="0" dy="4.19">71.0</tspan><tspan x="0" dy="4.19">72.7</tspan><tspan x="0" dy="4.19">74.3</tspan><tspan x="0" dy="4.19">76.0</tspan><tspan x="0" dy="4.19">77.6</tspan><tspan x="0" dy="4.19">79.3</tspan><tspan x="0" dy="4.19">80.9</tspan><tspan x="0" dy="4.19">82.6</tspan><tspan x="0" dy="4.19">84.2</tspan><tspan x="0" dy="4.19">85.9</tspan><tspan x="0" dy="4.19">87.5</tspan><tspan x="0" dy="4.19">89.2</tspan><tspan x="0" dy="4.19">90.8</tspan><tspan x="0" dy="4.19">92.5</tspan><tspan x="0" dy="4.19">94.1</tspan><tspan x="0" dy="4.19">95.8</tspan><tspan x="0" dy="4.19">97.4</tspan><tspan x="0" dy="4.19">99.1</tspan><tspan x="0" dy="4.19">100.7</tspan><tspan x="0" dy="4.19">102.4</tspan><tspan x="0" dy="4.19">104.0</tspan><tspan x="0" dy="4.19">105.6</tspan><tspan x="0" dy="4.19">106.8</tspan><tspan x="0" dy="4.19">108.0</tspan><tspan x="0" dy="4.19">109.1</tspan><tspan x="0" dy="4.19">110.5</tspan><tspan x="0" dy="4.19">111.3</tspan><tspan x="0" dy="4.19">112.6</tspan><tspan x="0" dy="4.19">113.5</tspan><tspan x="0" dy="4.19">114.3</tspan></text>
<text class="L" transform="translate(408,137)">
<tspan x="0" dy="4.19">S1_43378813-A</tspan>
<tspan x="0" dy="4.19">S1_50028020-A</tspan>
<tspan x="0" dy="4.19">S1_50038519-A</tspan>
<tspan x="0" dy="4.19" class="b">ASNP153-G</tspan>
<tspan x="0" dy="4.19">S1_21556104-A</tspan>
<tspan x="0" dy="4.19">ASNP2013-A</tspan>
<tspan x="0" dy="4.19">ASNP2008-A</tspan>
<tspan x="0" dy="4.19">S1_20278983-A</tspan>
<tspan x="0" dy="4.19">ASNP2068-A</tspan>
<tspan x="0" dy="4.19" class="b">ASNP820-G</tspan>
<tspan x="0" dy="4.19">S1_13182691-A</tspan>
<tspan x="0" dy="4.19">ASNP2267-A</tspan>
<tspan x="0" dy="4.19" class="b">ASNP1550-G</tspan>
<tspan x="0" dy="4.19">S1_14085025-A</tspan>
<tspan x="0" dy="4.19">S1_34558013-A</tspan>
<tspan x="0" dy="4.19">S1_27712946-A</tspan>
<tspan x="0" dy="4.19">AWSSR-104-A</tspan>
<tspan x="0" dy="4.19" class="c">ASNP2121-GA</tspan>
<tspan x="0" dy="4.19" class="c">ASNP102-GA</tspan>
<tspan x="0" dy="4.19" class="c">ASNP1400-GA</tspan>
<tspan x="0" dy="4.19">ASNP1827-A</tspan>
<tspan x="0" dy="4.19" class="b">ASNP735-G</tspan>
<tspan x="0" dy="4.19">S1_21904118-A</tspan>
<tspan x="0" dy="4.19">ASNP1562-A</tspan>
<tspan x="0" dy="4.19">S1_12380574-A</tspan>
<tspan x="0" dy="4.19" class="b">ASNP2005-G</tspan>
<tspan x="0" dy="4.19">ASNP461-A</tspan>
<tspan x="0" dy="4.19">S1_36209811-A</tspan>
<tspan x="0" dy="4.19" class="m">ASNP1233-RA</tspan>
<tspan x="0" dy="4.19">ASNP1714-A</tspan>
<tspan x="0" dy="4.19">S1_15820693-A</tspan>
<tspan x="0" dy="4.19" class="b">ASNP1089-G</tspan>
<tspan x="0" dy="4.19">ASNP2338-A</tspan>
<tspan x="0" dy="4.19">S1_28741056-A</tspan>
<tspan x="0" dy="4.19">ASNP597-A</tspan>
<tspan x="0" dy="4.19">S1_19037742-A</tspan>
<tspan x="0" dy="4.19" class="b">ASNP1476-G</tspan>
<tspan x="0" dy="4.19">ASNP1202-A</tspan>
<tspan x="0" dy="4.19">S1_31658820-A</tspan>
<tspan x="0" dy="4.19">ASNP816-A</tspan>
<tspan x="0" dy="4.19">S1_22416097-A</tspan>
<tspan x="0" dy="4.19" class="m">ASNP1968-RA</tspan>
<tspan x="0" dy="4.19">ASNP1351-A</tspan>
<tspan x="0" dy="4.19">S1_14973345-A</tspan>
<tspan x="0" dy="4.19" class="b">ASNP1045-G</tspan>
<tspan x="0" dy="4.19">ASNP2179-A</tspan>
<tspan x="0" dy="4.19">S1_26102858-A</tspan>
<tspan x="0" dy="4.19">ASNP702-A</tspan>
<tspan x="0" dy="4.19">S1_11248790-A</tspan>
<tspan x="0" dy="4.19">ASNP1582-A</tspan>
<tspan x="0" dy="4.19">S1_34520661-A</tspan>
<tspan x="0" dy="4.19" class="b">ASNP329-G</tspan>
<tspan x="0" dy="4.19">ASNP1906-A</tspan>
<tspan x="0" dy="4.19">S1_20375019-A</tspan>
<tspan x="0" dy="4.19">ASNP1175-A</tspan>
<tspan x="0" dy="4.19">S1_17650486-A</tspan>
<tspan x="0" dy="4.19">ASNP1022-A</tspan>
<tspan x="0" dy="4.19">S1_30714465-A</tspan>
<tspan x="0" dy="4.19">S1_12908735-A</tspan>
<tspan x="0" dy="4.19">ASNP543-A</tspan>
<tspan x="0" dy="4.19">ASNP1623-A</tspan>
<tspan x="0" dy="4.19">ASNP1433-A</tspan>
<tspan x="0" dy="4.19" class="b">ASNP1455-G</tspan>
<tspan x="0" dy="4.19" class="b">ASNP1662-G</tspan>
<tspan x="0" dy="4.19" class="b">ASNP2318-G</tspan>
<tspan x="0" dy="4.19" class="b">ASNP981-G</tspan>
<tspan x="0" dy="4.19" class="m">ASNP2256-RA</tspan>
<tspan x="0" dy="4.19">S1_31480597-A</tspan>
<tspan x="0" dy="4.19">S1_20288007-A</tspan>
<tspan x="0" dy="4.19" class="b">ASNP84-G</tspan>
</text>
</g>
<g id="lg7">
<text class="t" x="481" y="87">LG7</text>
<rect class="bar" x="458.5" y="96" width="3.5" height="378" rx="1.5"/>
<text class="N" transform="translate(456.5,94)"><tspan x="0" dy="4.22">0.0</tspan><tspan x="0" dy="4.22">2.2</tspan><tspan x="0" dy="4.22">3.9</tspan><tspan x="0" dy="4.22">5.8</tspan><tspan x="0" dy="4.22">6.6</tspan><tspan x="0" dy="4.22">8.7</tspan><tspan x="0" dy="4.22">9.7</tspan><tspan x="0" dy="4.22">10.6</tspan><tspan x="0" dy="4.22">12.4</tspan><tspan x="0" dy="4.22">13.3</tspan><tspan x="0" dy="4.22">14.3</tspan><tspan x="0" dy="4.22">15.4</tspan><tspan x="0" dy="4.22">17.1</tspan><tspan x="0" dy="4.22">18.2</tspan><tspan x="0" dy="4.22">19.4</tspan><tspan x="0" dy="4.22">21.8</tspan><tspan x="0" dy="4.22">22.6</tspan><tspan x="0" dy="4.22">23.7</tspan><tspan x="0" dy="4.22">25.1</tspan><tspan x="0" dy="4.22">26.7</tspan><tspan x="0" dy="4.22">28.2</tspan><tspan x="0" dy="4.22">29.3</tspan><tspan x="0" dy="4.22">31.2</tspan><tspan x="0" dy="4.22">32.8</tspan><tspan x="0" dy="4.22">33.9</tspan><tspan x="0" dy="4.22">35.3</tspan><tspan x="0" dy="4.22">36.6</tspan><tspan x="0" dy="4.22">37.9</tspan><tspan x="0" dy="4.22">39.1</tspan><tspan x="0" dy="4.22">40.4</tspan><tspan x="0" dy="4.22">41.6</tspan><tspan x="0" dy="4.22">42.9</tspan><tspan x="0" dy="4.22">44.1</tspan><tspan x="0" dy="4.22">45.4</tspan><tspan x="0" dy="4.22">46.6</tspan><tspan x="0" dy="4.22">47.9</tspan><tspan x="0" dy="4.22">49.1</tspan><tspan x="0" dy="4.22">50.4</tspan><tspan x="0" dy="4.22">51.6</tspan><tspan x="0" dy="4.22">52.9</tspan><tspan x="0" dy="4.22">54.1</tspan><tspan x="0" dy="4.22">55.4</tspan><tspan x="0" dy="4.22">56.6</tspan><tspan x="0" dy="4.22">57.9</tspan><tspan x="0" dy="4.22">59.1</tspan><tspan x="0" dy="4.22">60.4</tspan><tspan x="0" dy="4.22">61.6</tspan><tspan x="0" dy="4.22">62.9</tspan><tspan x="0" dy="4.22">64.1</tspan><tspan x="0" dy="4.22">65.4</tspan><tspan x="0" dy="4.22">66.6</tspan><tspan x="0" dy="4.22">67.9</tspan><tspan x="0" dy="4.22">69.1</tspan><tspan x="0" dy="4.22">70.4</tspan><tspan x="0" dy="4.22">71.6</tspan><tspan x="0" dy="4.22">72.9</tspan><tspan x="0" dy="4.22">74.1</tspan><tspan x="0" dy="4.22">75.4</tspan><tspan x="0" dy="4.22">76.6</tspan><tspan x="0" dy="4.22">77.9</tspan><tspan x="0" dy="4.22">79.1</tspan><tspan x="0" dy="4.22">80.4</tspan><tspan x="0" dy="4.22">81.6</tspan><tspan x="0" dy="4.22">82.9</tspan><tspan x="0" dy="4.22">84.1</tspan><tspan x="0" dy="4.22">85.4</tspan><tspan x="0" dy="4.22">86.6</tspan><tspan x="0" dy="4.22">87.9</tspan><tspan x="0" dy="4.22">89.1</tspan><tspan x="0" dy="4.22">90.4</tspan><tspan x="0" dy="4.22">91.8</tspan><tspan x="0" dy="4.22">92.7</tspan><tspan x="0" dy="4.22">93.9</tspan><tspan x="0" dy="4.22">95.0</tspan><tspan x="0" dy="4.22">96.9</tspan><tspan x="0" dy="4.22">97.7</tspan><tspan x="0" dy="4.22">98.4</tspan><tspan x="0" dy="4.22">100.1</tspan><tspan x="0" dy="4.22">101.5</tspan><tspan x="0" dy="4.22">102.7</tspan><tspan x="0" dy="4.22">104.8</tspan><tspan x="0" dy="4.22">106.4</tspan><tspan x="0" dy="4.22">108.2</tspan><tspan x="0" dy="4.22">109.4</tspan><tspan x="0" dy="4.22">111.9</tspan><tspan x="0" dy="4.22">113.5</tspan><tspan x="0" dy="4.22">115.3</tspan><tspan x="0" dy="4.22">116.1</tspan><tspan x="0" dy="4.22">117.2</tspan><tspan x="0" dy="4.22">118.5</tspan></text>
<text class="L" transform="translate(466,94)">
<tspan x="0" dy="4.22">S1_22137025-A</tspan>
<tspan x="0" dy="4.22">ASNP807-A</tspan>
<tspan x="0" dy="4.22">S1_82214017-A</tspan>
<tspan x="0" dy="4.22">ASNP1943-A</tspan>
<tspan x="0" dy="4.22">S1_15282381-A</tspan>
<tspan x="0" dy="4.22">ASNP62-A</tspan>
<tspan x="0" dy="4.22">ASNP1018-A</tspan>
<tspan x="0" dy="4.22">S1_45726391-A</tspan>
<tspan x="0" dy="4.22">S1_31394082-A</tspan>
<tspan x="0" dy="4.22">S1_29581585-A</tspan>
<tspan x="0" dy="4.22" class="c">ASNP2443-GA</tspan>
<tspan x="0" dy="4.22">S1_45626489-A</tspan>
<tspan x="0" dy="4.22">S1_45720712-A</tspan>
<tspan x="0" dy="4.22">S1_59369829-A</tspan>
<tspan x="0" dy="4.22" class="c">ASNP2095-GA</tspan>
<tspan x="0" dy="4.22" class="c">ASNP1517-GA</tspan>
<tspan x="0" dy="4.22" class="c">ASNP2152-GA</tspan>
<tspan x="0" dy="4.22" class="b">ASNP800-G</tspan>
<tspan x="0" dy="4.22">ASNP1701-A</tspan>
<tspan x="0" dy="4.22">ASNP1198-A ASNP1732-A</tspan>
<tspan x="0" dy="4.22">ASNP1060-A</tspan>
<tspan x="0" dy="4.22">S1_20668695-A</tspan>
<tspan x="0" dy="4.22">S1_20868812-A</tspan>
<tspan x="0" dy="4.22" class="b">ASSR16-G</tspan>
<tspan x="0" dy="4.22">ASNP95-A</tspan>
<tspan x="0" dy="4.22">ASNP1524-A</tspan>
<tspan x="0" dy="4.22" class="c">ASNP292-GA</tspan>
<tspan x="0" dy="4.22" class="c">ASNP2008-GA</tspan>
<tspan x="0" dy="4.22">ASNP427-A</tspan>
<tspan x="0" dy="4.22">S1_18482361-A</tspan>
<tspan x="0" dy="4.22">ASNP1165-A</tspan>
<tspan x="0" dy="4.22">S1_24517830-A</tspan>
<tspan x="0" dy="4.22">ASNP2209-A</tspan>
<tspan x="0" dy="4.22">S1_13076254-A</tspan>
<tspan x="0" dy="4.22" class="m">ASNP1584-RA</tspan>
<tspan x="0" dy="4.22">ASNP708-A</tspan>
<tspan x="0" dy="4.22">S1_35928841-A</tspan>
<tspan x="0" dy="4.22">ASNP1340-A</tspan>
<tspan x="0" dy="4.22">S1_21173609-A</tspan>
<tspan x="0" dy="4.22" class="b">ASNP1877-G</tspan>
<tspan x="0" dy="4.22">ASNP2056-A</tspan>
<tspan x="0" dy="4.22">S1_40619327-A</tspan>
<tspan x="0" dy="4.22">ASNP614-A</tspan>
<tspan x="0" dy="4.22">S1_16284573-A</tspan>
<tspan x="0" dy="4.22">ASNP1291-A</tspan>
<tspan x="0" dy="4.22">S1_29805142-A</tspan>
<tspan x="0" dy="4.22">ASNP1730-A</tspan>
<tspan x="0" dy="4.22">S1_12650978-A</tspan>
<tspan x="0" dy="4.22" class="m">ASNP2137-RA</tspan>
<tspan x="0" dy="4.22">ASNP983-A</tspan>
<tspan x="0" dy="4.22">S1_38471205-A</tspan>
<tspan x="0" dy="4.22">ASNP1458-A</tspan>
<tspan x="0" dy="4.22">S1_22087316-A</tspan>
<tspan x="0" dy="4.22">ASNP1106-A</tspan>
<tspan x="0" dy="4.22">S1_17930462-A</tspan>
<tspan x="0" dy="4.22">ASNP2284-A</tspan>
<tspan x="0" dy="4.22">S1_31256780-A</tspan>
<tspan x="0" dy="4.22" class="b">ASNP545-G</tspan>
<tspan x="0" dy="4.22">ASNP1612-A</tspan>
<tspan x="0" dy="4.22">S1_14698023-A</tspan>
<tspan x="0" dy="4.22">ASNP1929-A</tspan>
<tspan x="0" dy="4.22">S1_26351147-A</tspan>
<tspan x="0" dy="4.22">ASNP1047-A</tspan>
<tspan x="0" dy="4.22">S1_42830591-A</tspan>
<tspan x="0" dy="4.22" class="m">ASNP1367-RA</tspan>
<tspan x="0" dy="4.22">ASNP1800-A</tspan>
<tspan x="0" dy="4.22">S1_19208634-A</tspan>
<tspan x="0" dy="4.22">ASNP1936-A</tspan>
<tspan x="0" dy="4.22">ASNP1942-A</tspan>
<tspan x="0" dy="4.22">ASNP2211-A</tspan>
<tspan x="0" dy="4.22">S1_28513260-A</tspan>
<tspan x="0" dy="4.22" class="o">ASNP1388-RG</tspan>
<tspan x="0" dy="4.22">ASNP773-A</tspan>
<tspan x="0" dy="4.22">ASSR-95-A</tspan>
<tspan x="0" dy="4.22">ASNP1530-A</tspan>
<tspan x="0" dy="4.22">S1_45210667-A</tspan>
<tspan x="0" dy="4.22" class="m">ASNP1142-RA</tspan>
<tspan x="0" dy="4.22">ASNP1687-A</tspan>
<tspan x="0" dy="4.22">S1_12374816-A</tspan>
<tspan x="0" dy="4.22" class="b">ASNP2102-G</tspan>
<tspan x="0" dy="4.22">ASNP1258-A</tspan>
<tspan x="0" dy="4.22">ASNP1809-A</tspan>
<tspan x="0" dy="4.22" class="m">ASNP611-RA</tspan>
<tspan x="0" dy="4.22">S1_23194026-A</tspan>
<tspan x="0" dy="4.22">S1_17302881-A</tspan>
<tspan x="0" dy="4.22">S1_41205596-A</tspan>
<tspan x="0" dy="4.22">S1_24987135-A</tspan>
<tspan x="0" dy="4.22">ASNP1926-A</tspan>
<tspan x="0" dy="4.22">S1_36059841-A</tspan>
<tspan x="0" dy="4.22">S1_24112809-A</tspan>
</text>
</g>
<g id="lg8">
<text class="t" x="554" y="152">LG8</text>
<rect class="bar" x="532.5" y="161" width="3.5" height="294" rx="1.5"/>
<text class="N" transform="translate(530.5,159)"><tspan x="0" dy="4.23">0.0</tspan><tspan x="0" dy="4.23">3.2</tspan><tspan x="0" dy="4.23">4.4</tspan><tspan x="0" dy="4.23">5.0</tspan><tspan x="0" dy="4.23">5.4</tspan><tspan x="0" dy="4.23">6.6</tspan><tspan x="0" dy="4.23">7.9</tspan><tspan x="0" dy="4.23">8.7</tspan><tspan x="0" dy="4.23">11.8</tspan><tspan x="0" dy="4.23">13.2</tspan><tspan x="0" dy="4.23">14.8</tspan><tspan x="0" dy="4.23">15.4</tspan><tspan x="0" dy="4.23">17.3</tspan><tspan x="0" dy="4.23">19.1</tspan><tspan x="0" dy="4.23">20.8</tspan><tspan x="0" dy="4.23">22.5</tspan><tspan x="0" dy="4.23">24.3</tspan><tspan x="0" dy="4.23">26.0</tspan><tspan x="0" dy="4.23">27.8</tspan><tspan x="0" dy="4.23">29.5</tspan><tspan x="0" dy="4.23">31.3</tspan><tspan x="0" dy="4.23">33.0</tspan><tspan x="0" dy="4.23">34.8</tspan><tspan x="0" dy="4.23">36.5</tspan><tspan x="0" dy="4.23">38.3</tspan><tspan x="0" dy="4.23">40.0</tspan><tspan x="0" dy="4.23">41.8</tspan><tspan x="0" dy="4.23">43.5</tspan><tspan x="0" dy="4.23">45.3</tspan><tspan x="0" dy="4.23">47.0</tspan><tspan x="0" dy="4.23">48.8</tspan><tspan x="0" dy="4.23">50.5</tspan><tspan x="0" dy="4.23">52.3</tspan><tspan x="0" dy="4.23">54.0</tspan><tspan x="0" dy="4.23">55.8</tspan><tspan x="0" dy="4.23">57.5</tspan><tspan x="0" dy="4.23">59.3</tspan><tspan x="0" dy="4.23">61.0</tspan><tspan x="0" dy="4.23">62.8</tspan><tspan x="0" dy="4.23">64.5</tspan><tspan x="0" dy="4.23">66.3</tspan><tspan x="0" dy="4.23">68.0</tspan><tspan x="0" dy="4.23">69.8</tspan><tspan x="0" dy="4.23">71.5</tspan><tspan x="0" dy="4.23">73.3</tspan><tspan x="0" dy="4.23">75.0</tspan><tspan x="0" dy="4.23">76.8</tspan><tspan x="0" dy="4.23">78.5</tspan><tspan x="0" dy="4.23">80.3</tspan><tspan x="0" dy="4.23">82.0</tspan><tspan x="0" dy="4.23">83.8</tspan><tspan x="0" dy="4.23">85.5</tspan><tspan x="0" dy="4.23">87.3</tspan><tspan x="0" dy="4.23">89.0</tspan><tspan x="0" dy="4.23">90.8</tspan><tspan x="0" dy="4.23">92.5</tspan><tspan x="0" dy="4.23">94.3</tspan><tspan x="0" dy="4.23">96.0</tspan><tspan x="0" dy="4.23">97.8</tspan><tspan x="0" dy="4.23">99.5</tspan><tspan x="0" dy="4.23">101.3</tspan><tspan x="0" dy="4.23">103.0</tspan><tspan x="0" dy="4.23">104.8</tspan><tspan x="0" dy="4.23">106.5</tspan><tspan x="0" dy="4.23">108.3</tspan><tspan x="0" dy="4.23">110.0</tspan><tspan x="0" dy="4.23">111.8</tspan><tspan x="0" dy="4.23">113.5</tspan><tspan x="0" dy="4.23">115.3</tspan><tspan x="0" dy="4.23">117.1</tspan></text>
<text class="L" transform="translate(540,159)">
<tspan x="0" dy="4.23">S1_15628149-A <tspan class="b">ASNP800-G</tspan></tspan>
<tspan x="0" dy="4.23">S1_41012932-A</tspan>
<tspan x="0" dy="4.23" class="b">ASSR286-G</tspan>
<tspan x="0" dy="4.23" class="b">ASNP672-G</tspan>
<tspan x="0" dy="4.23">S1_11526617-A</tspan>
<tspan x="0" dy="4.23" class="b">ASNP984-G</tspan>
<tspan x="0" dy="4.23">S1_44136271-A</tspan>
<tspan x="0" dy="4.23">S1_41271135-A</tspan>
<tspan x="0" dy="4.23">S1_40212065-A</tspan>
<tspan x="0" dy="4.23">S1_19305150-A</tspan>
<tspan x="0" dy="4.23">S1_41072884-A</tspan>
<tspan x="0" dy="4.23">S1_20341827-A</tspan>
<tspan x="0" dy="4.23">ASNP1307-A</tspan>
<tspan x="0" dy="4.23" class="b">ASNP2258-G</tspan>
<tspan x="0" dy="4.23">S1_12639904-A</tspan>
<tspan x="0" dy="4.23">ASNP1719-A</tspan>
<tspan x="0" dy="4.23">S1_30881572-A</tspan>
<tspan x="0" dy="4.23" class="m">ASNP1456-RA</tspan>
<tspan x="0" dy="4.23">ASNP806-A</tspan>
<tspan x="0" dy="4.23">S1_22317849-A</tspan>
<tspan x="0" dy="4.23" class="b">ASNP1180-G</tspan>
<tspan x="0" dy="4.23">ASNP1945-A</tspan>
<tspan x="0" dy="4.23">S1_18074352-A</tspan>
<tspan x="0" dy="4.23">ASNP2024-A <tspan class="b">ASNP774-G</tspan></tspan>
<tspan x="0" dy="4.23">S1_40918663-A</tspan>
<tspan x="0" dy="4.23" class="b">ASSR235-G</tspan>
<tspan x="0" dy="4.23">ASNP1348-A</tspan>
<tspan x="0" dy="4.23">S1_26541098-A</tspan>
<tspan x="0" dy="4.23">ASNP612-A</tspan>
<tspan x="0" dy="4.23">S1_13385207-A</tspan>
<tspan x="0" dy="4.23" class="b">ASNP1996-G</tspan>
<tspan x="0" dy="4.23">ASNP1279-A</tspan>
<tspan x="0" dy="4.23">S1_35209716-A</tspan>
<tspan x="0" dy="4.23" class="m">ASNP1652-RA</tspan>
<tspan x="0" dy="4.23">ASNP470-A</tspan>
<tspan x="0" dy="4.23">S1_21708354-A</tspan>
<tspan x="0" dy="4.23">ASNP1833-A</tspan>
<tspan x="0" dy="4.23">S1_16927043-A</tspan>
<tspan x="0" dy="4.23" class="b">ASNP1172-G</tspan>
<tspan x="0" dy="4.23">ASNP2280-A</tspan>
<tspan x="0" dy="4.23">S1_29164568-A</tspan>
<tspan x="0" dy="4.23">ASNP903-A</tspan>
<tspan x="0" dy="4.23">S1_14427730-A</tspan>
<tspan x="0" dy="4.23">ASNP1511-A</tspan>
<tspan x="0" dy="4.23">S1_38502916-A</tspan>
<tspan x="0" dy="4.23" class="c">ASNP2046-GA</tspan>
<tspan x="0" dy="4.23">ASNP1124-A</tspan>
<tspan x="0" dy="4.23">S1_20785621-A</tspan>
<tspan x="0" dy="4.23">ASNP756-A</tspan>
<tspan x="0" dy="4.23">S1_11573308-A</tspan>
<tspan x="0" dy="4.23" class="b">ASNP1803-G</tspan>
<tspan x="0" dy="4.23">ASNP1398-A</tspan>
<tspan x="0" dy="4.23">S1_27330914-A</tspan>
<tspan x="0" dy="4.23">ASNP2117-A</tspan>
<tspan x="0" dy="4.23">S1_18694275-A</tspan>
<tspan x="0" dy="4.23" class="m">ASNP1059-RA</tspan>
<tspan x="0" dy="4.23">ASNP1694-A</tspan>
<tspan x="0" dy="4.23">S1_32068751-A</tspan>
<tspan x="0" dy="4.23">ASNP528-A</tspan>
<tspan x="0" dy="4.23">S1_23945186-A</tspan>
<tspan x="0" dy="4.23" class="b">ASNP1439-G</tspan>
<tspan x="0" dy="4.23">ASNP1866-A</tspan>
<tspan x="0" dy="4.23">S1_15211379-A</tspan>
<tspan x="0" dy="4.23">ASNP1235-A</tspan>
<tspan x="0" dy="4.23">S1_40786142-A</tspan>
<tspan x="0" dy="4.23" class="b">ASNP971-G</tspan>
<tspan x="0" dy="4.23">ASNP2197-A</tspan>
<tspan x="0" dy="4.23">S1_26018467-A</tspan>
<tspan x="0" dy="4.23">ASNP1545-A</tspan>
<tspan x="0" dy="4.23">S1_13672058-A</tspan>
</text>
</g>
<g id="lg9">
<text class="t" x="630" y="163">LG9</text>
<rect class="bar" x="615.5" y="171" width="3.5" height="298" rx="1.5"/>
<text class="N" transform="translate(613.5,169)"><tspan x="0" dy="4.23">0.0</tspan><tspan x="0" dy="4.23">7.1</tspan><tspan x="0" dy="4.23">18.0</tspan><tspan x="0" dy="4.23">20.3</tspan><tspan x="0" dy="4.23">21.4</tspan><tspan x="0" dy="4.23">23.4</tspan><tspan x="0" dy="4.23">27.3</tspan><tspan x="0" dy="4.23">30.3</tspan><tspan x="0" dy="4.23">34.5</tspan><tspan x="0" dy="4.23">36.3</tspan><tspan x="0" dy="4.23">37.5</tspan><tspan x="0" dy="4.23">40.6</tspan><tspan x="0" dy="4.23">45.6</tspan><tspan x="0" dy="4.23">46.7</tspan><tspan x="0" dy="4.23">49.8</tspan><tspan x="0" dy="4.23">51.0</tspan><tspan x="0" dy="4.23">51.9</tspan><tspan x="0" dy="4.23">53.4</tspan><tspan x="0" dy="4.23">55.0</tspan><tspan x="0" dy="4.23">56.7</tspan><tspan x="0" dy="4.23">58.3</tspan><tspan x="0" dy="4.23">60.0</tspan><tspan x="0" dy="4.23">61.6</tspan><tspan x="0" dy="4.23">63.3</tspan><tspan x="0" dy="4.23">64.9</tspan><tspan x="0" dy="4.23">66.6</tspan><tspan x="0" dy="4.23">68.2</tspan><tspan x="0" dy="4.23">69.9</tspan><tspan x="0" dy="4.23">71.5</tspan><tspan x="0" dy="4.23">73.2</tspan><tspan x="0" dy="4.23">74.8</tspan><tspan x="0" dy="4.23">76.5</tspan><tspan x="0" dy="4.23">78.1</tspan><tspan x="0" dy="4.23">79.8</tspan><tspan x="0" dy="4.23">81.4</tspan><tspan x="0" dy="4.23">83.1</tspan><tspan x="0" dy="4.23">84.7</tspan><tspan x="0" dy="4.23">86.4</tspan><tspan x="0" dy="4.23">88.0</tspan><tspan x="0" dy="4.23">89.7</tspan><tspan x="0" dy="4.23">91.3</tspan><tspan x="0" dy="4.23">93.0</tspan><tspan x="0" dy="4.23">94.6</tspan><tspan x="0" dy="4.23">96.3</tspan><tspan x="0" dy="4.23">97.9</tspan><tspan x="0" dy="4.23">99.6</tspan><tspan x="0" dy="4.23">101.2</tspan><tspan x="0" dy="4.23">102.9</tspan><tspan x="0" dy="4.23">104.5</tspan><tspan x="0" dy="4.23">106.2</tspan><tspan x="0" dy="4.23">107.8</tspan><tspan x="0" dy="4.23">109.5</tspan><tspan x="0" dy="4.23">111.1</tspan><tspan x="0" dy="4.23">112.8</tspan><tspan x="0" dy="4.23">114.4</tspan><tspan x="0" dy="4.23">116.1</tspan><tspan x="0" dy="4.23">117.7</tspan><tspan x="0" dy="4.23">119.4</tspan><tspan x="0" dy="4.23">121.0</tspan><tspan x="0" dy="4.23">122.7</tspan><tspan x="0" dy="4.23">124.3</tspan><tspan x="0" dy="4.23">126.0</tspan><tspan x="0" dy="4.23">127.6</tspan><tspan x="0" dy="4.23">129.3</tspan><tspan x="0" dy="4.23">130.9</tspan><tspan x="0" dy="4.23">132.6</tspan><tspan x="0" dy="4.23">134.2</tspan><tspan x="0" dy="4.23">135.9</tspan><tspan x="0" dy="4.23">137.5</tspan><tspan x="0" dy="4.23">140.9</tspan><tspan x="0" dy="4.23">144.3</tspan></text>
<text class="L" transform="translate(623,169)">
<tspan x="0" dy="4.23" class="m">ASNP405-RA</tspan>
<tspan x="0" dy="4.23" class="m">ASNP1365-RA</tspan>
<tspan x="0" dy="4.23" class="m">ASNP1513-RA</tspan>
<tspan x="0" dy="4.23" class="m">ASNP1552-RA</tspan>
<tspan x="0" dy="4.23" class="m">ASNP1972-RA</tspan>
<tspan x="0" dy="4.23" class="m">ASNP1601-RA</tspan>
<tspan x="0" dy="4.23" class="g">ASNP43-R</tspan>
<tspan x="0" dy="4.23" class="m">ASNP1523-RA</tspan>
<tspan x="0" dy="4.23">S1_15740821-A</tspan>
<tspan x="0" dy="4.23" class="b">ASNP2099-G</tspan>
<tspan x="0" dy="4.23" class="o">ASNP1793-RG</tspan>
<tspan x="0" dy="4.23">S1_42181700-A</tspan>
<tspan x="0" dy="4.23">S1_28703005-A</tspan>
<tspan x="0" dy="4.23">S1_22023794-A</tspan>
<tspan x="0" dy="4.23" class="b">ASNP992-G</tspan>
<tspan x="0" dy="4.23">ASNP1637-A</tspan>
<tspan x="0" dy="4.23">ASNP2088-A</tspan>
<tspan x="0" dy="4.23" class="o">ASNP530-RG</tspan>
<tspan x="0" dy="4.23" class="b">ASNP25-G</tspan>
<tspan x="0" dy="4.23">ASNP1479-A</tspan>
<tspan x="0" dy="4.23">S1_31950624-A</tspan>
<tspan x="0" dy="4.23" class="m">ASNP1185-RA</tspan>
<tspan x="0" dy="4.23">ASNP743-A</tspan>
<tspan x="0" dy="4.23">S1_20647718-A</tspan>
<tspan x="0" dy="4.23">ASNP1966-A</tspan>
<tspan x="0" dy="4.23">S1_12834492-A</tspan>
<tspan x="0" dy="4.23" class="b">ASNP1219-G</tspan>
<tspan x="0" dy="4.23">ASNP2038-A</tspan>
<tspan x="0" dy="4.23">S1_37560184-A</tspan>
<tspan x="0" dy="4.23">ASNP681-A</tspan>
<tspan x="0" dy="4.23">S1_23491075-A</tspan>
<tspan x="0" dy="4.23" class="m">ASNP1440-RA</tspan>
<tspan x="0" dy="4.23">ASNP1107-A</tspan>
<tspan x="0" dy="4.23">S1_16320958-A</tspan>
<tspan x="0" dy="4.23">ASNP1873-A</tspan>
<tspan x="0" dy="4.23">S1_29047361-A</tspan>
<tspan x="0" dy="4.23" class="b">ASNP556-G</tspan>
<tspan x="0" dy="4.23">ASNP1616-A</tspan>
<tspan x="0" dy="4.23">S1_41378820-A</tspan>
<tspan x="0" dy="4.23">ASNP1294-A</tspan>
<tspan x="0" dy="4.23">S1_14852603-A</tspan>
<tspan x="0" dy="4.23">ASNP2154-A</tspan>
<tspan x="0" dy="4.23">S1_25716439-A</tspan>
<tspan x="0" dy="4.23" class="m">ASNP1009-RA</tspan>
<tspan x="0" dy="4.23">ASNP890-A</tspan>
<tspan x="0" dy="4.23">S1_33604127-A</tspan>
<tspan x="0" dy="4.23">ASNP1725-A</tspan>
<tspan x="0" dy="4.23">S1_18260546-A</tspan>
<tspan x="0" dy="4.23" class="b">ASNP1383-G</tspan>
<tspan x="0" dy="4.23">ASNP2240-A</tspan>
<tspan x="0" dy="4.23">S1_27941385-A</tspan>
<tspan x="0" dy="4.23">ASNP632-A</tspan>
<tspan x="0" dy="4.23">S1_11095723-A</tspan>
<tspan x="0" dy="4.23">ASNP1557-A</tspan>
<tspan x="0" dy="4.23">S1_39482014-A</tspan>
<tspan x="0" dy="4.23" class="c">ASNP1960-GA</tspan>
<tspan x="0" dy="4.23">ASNP1138-A</tspan>
<tspan x="0" dy="4.23">S1_21863590-A</tspan>
<tspan x="0" dy="4.23">ASNP1801-A</tspan>
<tspan x="0" dy="4.23">S1_15034862-A</tspan>
<tspan x="0" dy="4.23" class="m">ASNP1276-RA</tspan>
<tspan x="0" dy="4.23">ASNP415-A</tspan>
<tspan x="0" dy="4.23">S1_30577219-A</tspan>
<tspan x="0" dy="4.23">ASNP1923-A</tspan>
<tspan x="0" dy="4.23">S1_24308671-A</tspan>
<tspan x="0" dy="4.23" class="b">ASNP1064-G</tspan>
<tspan x="0" dy="4.23">ASNP2005-A</tspan>
<tspan x="0" dy="4.23">S1_19726345-A</tspan>
<tspan x="0" dy="4.23">ASNP1412-A</tspan>
<tspan x="0" dy="4.23">S1_36815092-A</tspan>
<tspan x="0" dy="4.23">ASNP1870-A</tspan>
</text>
</g>
<g id="lg10">
<text class="t" x="692" y="151">LG10</text>
<rect class="bar" x="674.5" y="160" width="3.5" height="317" rx="1.5"/>
<text class="N" transform="translate(672.5,158)"><tspan x="0" dy="4.2">0.0</tspan><tspan x="0" dy="4.2">0.2</tspan><tspan x="0" dy="4.2">1.4</tspan><tspan x="0" dy="4.2">3.7</tspan><tspan x="0" dy="4.2">5.1</tspan><tspan x="0" dy="4.2">7.8</tspan><tspan x="0" dy="4.2">9.1</tspan><tspan x="0" dy="4.2">11.0</tspan><tspan x="0" dy="4.2">13.6</tspan><tspan x="0" dy="4.2">14.8</tspan><tspan x="0" dy="4.2">16.6</tspan><tspan x="0" dy="4.2">18.6</tspan><tspan x="0" dy="4.2">20.9</tspan><tspan x="0" dy="4.2">22.6</tspan><tspan x="0" dy="4.2">25.7</tspan><tspan x="0" dy="4.2">27.5</tspan><tspan x="0" dy="4.2">29.4</tspan><tspan x="0" dy="4.2">31.0</tspan><tspan x="0" dy="4.2">33.7</tspan><tspan x="0" dy="4.2">35.9</tspan><tspan x="0" dy="4.2">37.4</tspan><tspan x="0" dy="4.2">39.0</tspan><tspan x="0" dy="4.2">40.7</tspan><tspan x="0" dy="4.2">42.3</tspan><tspan x="0" dy="4.2">43.9</tspan><tspan x="0" dy="4.2">45.6</tspan><tspan x="0" dy="4.2">47.2</tspan><tspan x="0" dy="4.2">48.8</tspan><tspan x="0" dy="4.2">50.5</tspan><tspan x="0" dy="4.2">52.1</tspan><tspan x="0" dy="4.2">53.7</tspan><tspan x="0" dy="4.2">55.4</tspan><tspan x="0" dy="4.2">57.0</tspan><tspan x="0" dy="4.2">58.6</tspan><tspan x="0" dy="4.2">60.3</tspan><tspan x="0" dy="4.2">61.9</tspan><tspan x="0" dy="4.2">63.5</tspan><tspan x="0" dy="4.2">65.2</tspan><tspan x="0" dy="4.2">66.8</tspan><tspan x="0" dy="4.2">68.4</tspan><tspan x="0" dy="4.2">70.1</tspan><tspan x="0" dy="4.2">71.7</tspan><tspan x="0" dy="4.2">73.3</tspan><tspan x="0" dy="4.2">75.0</tspan><tspan x="0" dy="4.2">76.6</tspan><tspan x="0" dy="4.2">78.2</tspan><tspan x="0" dy="4.2">79.9</tspan><tspan x="0" dy="4.2">81.5</tspan><tspan x="0" dy="4.2">83.1</tspan><tspan x="0" dy="4.2">84.8</tspan><tspan x="0" dy="4.2">86.4</tspan><tspan x="0" dy="4.2">88.0</tspan><tspan x="0" dy="4.2">89.7</tspan><tspan x="0" dy="4.2">91.3</tspan><tspan x="0" dy="4.2">92.9</tspan><tspan x="0" dy="4.2">94.6</tspan><tspan x="0" dy="4.2">96.2</tspan><tspan x="0" dy="4.2">97.8</tspan><tspan x="0" dy="4.2">99.5</tspan><tspan x="0" dy="4.2">101.1</tspan><tspan x="0" dy="4.2">102.7</tspan><tspan x="0" dy="4.2">104.4</tspan><tspan x="0" dy="4.2">106.0</tspan><tspan x="0" dy="4.2">107.6</tspan><tspan x="0" dy="4.2">109.3</tspan><tspan x="0" dy="4.2">110.9</tspan><tspan x="0" dy="4.2">112.5</tspan><tspan x="0" dy="4.2">114.2</tspan><tspan x="0" dy="4.2">115.8</tspan><tspan x="0" dy="4.2">117.4</tspan><tspan x="0" dy="4.2">119.1</tspan><tspan x="0" dy="4.2">122.6</tspan><tspan x="0" dy="4.2">126.3</tspan><tspan x="0" dy="4.2">130.8</tspan><tspan x="0" dy="4.2">135.2</tspan><tspan x="0" dy="4.2">139.7</tspan></text>
<text class="L" transform="translate(681,158)">
<tspan x="0" dy="4.2" class="o">ASNP355-RG</tspan>
<tspan x="0" dy="4.2" class="b">ASNP1734-G</tspan>
<tspan x="0" dy="4.2" class="b">ASNP42-G</tspan>
<tspan x="0" dy="4.2">S1_33940999-A</tspan>
<tspan x="0" dy="4.2" class="b">ASNP249-G</tspan>
<tspan x="0" dy="4.2">S1_14557622-A</tspan>
<tspan x="0" dy="4.2">S1_13817830-A</tspan>
<tspan x="0" dy="4.2">S1_40211298-A</tspan>
<tspan x="0" dy="4.2">S1_48011759-A</tspan>
<tspan x="0" dy="4.2">S1_54612188-A</tspan>
<tspan x="0" dy="4.2" class="m">ASNP1535-RA</tspan>
<tspan x="0" dy="4.2">S1_14212884-A</tspan>
<tspan x="0" dy="4.2">S1_38832126-A</tspan>
<tspan x="0" dy="4.2" class="b">ASNP239-G</tspan>
<tspan x="0" dy="4.2">ASNP368-A</tspan>
<tspan x="0" dy="4.2" class="m">ASNP860-RA</tspan>
<tspan x="0" dy="4.2" class="b">ASNP223-G</tspan>
<tspan x="0" dy="4.2" class="b">ASNP1086-G</tspan>
<tspan x="0" dy="4.2" class="m">ASNP2249-RA</tspan>
<tspan x="0" dy="4.2" class="m">ASNP2063-RA</tspan>
<tspan x="0" dy="4.2" class="m">ASNP1626-RA</tspan>
<tspan x="0" dy="4.2" class="b">ASSR811-G</tspan>
<tspan x="0" dy="4.2">ASNP1458-A</tspan>
<tspan x="0" dy="4.2" class="b">ASNP305-G</tspan>
<tspan x="0" dy="4.2">S1_21743096-A</tspan>
<tspan x="0" dy="4.2" class="m">ASNP1830-RA</tspan>
<tspan x="0" dy="4.2">ASNP1172-A</tspan>
<tspan x="0" dy="4.2">S1_15069824-A</tspan>
<tspan x="0" dy="4.2" class="b">ASNP2223-G</tspan>
<tspan x="0" dy="4.2">ASNP718-A</tspan>
<tspan x="0" dy="4.2">S1_40531867-A</tspan>
<tspan x="0" dy="4.2" class="m">ASNP1495-RA</tspan>
<tspan x="0" dy="4.2">ASNP1651-A</tspan>
<tspan x="0" dy="4.2">S1_26483150-A</tspan>
<tspan x="0" dy="4.2" class="b">ASNP937-G</tspan>
<tspan x="0" dy="4.2">ASNP2040-A</tspan>
<tspan x="0" dy="4.2">S1_12097345-A</tspan>
<tspan x="0" dy="4.2" class="m">ASNP1326-RA</tspan>
<tspan x="0" dy="4.2">ASNP584-A</tspan>
<tspan x="0" dy="4.2">S1_33716208-A</tspan>
<tspan x="0" dy="4.2" class="b">ASNP1712-G</tspan>
<tspan x="0" dy="4.2">ASNP1268-A</tspan>
<tspan x="0" dy="4.2">S1_19420573-A</tspan>
<tspan x="0" dy="4.2" class="m">ASNP2181-RA</tspan>
<tspan x="0" dy="4.2">ASNP1033-A</tspan>
<tspan x="0" dy="4.2">S1_28867412-A</tspan>
<tspan x="0" dy="4.2" class="b">ASNP1547-G</tspan>
<tspan x="0" dy="4.2">ASNP460-A</tspan>
<tspan x="0" dy="4.2">S1_14352079-A</tspan>
<tspan x="0" dy="4.2">ASNP1906-A</tspan>
<tspan x="0" dy="4.2">S1_37025186-A</tspan>
<tspan x="0" dy="4.2" class="m">ASNP1203-RA</tspan>
<tspan x="0" dy="4.2">ASNP1789-A</tspan>
<tspan x="0" dy="4.2">S1_22618437-A</tspan>
<tspan x="0" dy="4.2" class="b">ASNP1121-G</tspan>
<tspan x="0" dy="4.2">ASNP2271-A</tspan>
<tspan x="0" dy="4.2">S1_11840629-A</tspan>
<tspan x="0" dy="4.2">ASNP693-A</tspan>
<tspan x="0" dy="4.2">S1_30194758-A</tspan>
<tspan x="0" dy="4.2" class="m">ASNP1464-RA</tspan>
<tspan x="0" dy="4.2">ASNP1950-A</tspan>
<tspan x="0" dy="4.2">S1_25307614-A</tspan>
<tspan x="0" dy="4.2" class="b">ASNP1347-G</tspan>
<tspan x="0" dy="4.2">ASNP2115-A</tspan>
<tspan x="0" dy="4.2">S1_17736082-A</tspan>
<tspan x="0" dy="4.2">ASNP851-A</tspan>
<tspan x="0" dy="4.2">S1_34081295-A</tspan>
<tspan x="0" dy="4.2" class="m">ASNP1581-RA</tspan>
<tspan x="0" dy="4.2">ASNP1245-A</tspan>
<tspan x="0" dy="4.2">S1_20469173-A</tspan>
<tspan x="0" dy="4.2" class="b">ASNP2066-G</tspan>
<tspan x="0" dy="4.2">ASNP1024-A</tspan>
<tspan x="0" dy="4.2">S1_13908536-A</tspan>
<tspan x="0" dy="4.2">ASNP1697-A</tspan>
<tspan x="0" dy="4.2">S1_29562048-A</tspan>
<tspan x="0" dy="4.2">ASNP1318-A</tspan>
</text>
</g>
<g id="lg11">
<text class="t" x="747" y="98">LG11</text>
<rect class="bar" x="731.5" y="106" width="3.5" height="393" rx="1.5"/>
<text class="N" transform="translate(729.5,104)"><tspan x="0" dy="4.2">0.0</tspan><tspan x="0" dy="4.2">1.6</tspan><tspan x="0" dy="4.2">2.7</tspan><tspan x="0" dy="4.2">3.3</tspan><tspan x="0" dy="4.2">4.1</tspan><tspan x="0" dy="4.2">5.3</tspan><tspan x="0" dy="4.2">6.2</tspan><tspan x="0" dy="4.2">7.4</tspan><tspan x="0" dy="4.2">8.8</tspan><tspan x="0" dy="4.2">9.7</tspan><tspan x="0" dy="4.2">10.6</tspan><tspan x="0" dy="4.2">11.9</tspan><tspan x="0" dy="4.2">12.8</tspan><tspan x="0" dy="4.2">14.0</tspan><tspan x="0" dy="4.2">15.1</tspan><tspan x="0" dy="4.2">16.5</tspan><tspan x="0" dy="4.2">17.2</tspan><tspan x="0" dy="4.2">18.9</tspan><tspan x="0" dy="4.2">19.6</tspan><tspan x="0" dy="4.2">20.8</tspan><tspan x="0" dy="4.2">21.5</tspan><tspan x="0" dy="4.2">22.9</tspan><tspan x="0" dy="4.2">24.1</tspan><tspan x="0" dy="4.2">25.7</tspan><tspan x="0" dy="4.2">27.3</tspan><tspan x="0" dy="4.2">28.4</tspan><tspan x="0" dy="4.2">29.7</tspan><tspan x="0" dy="4.2">31.0</tspan><tspan x="0" dy="4.2">32.2</tspan><tspan x="0" dy="4.2">33.5</tspan><tspan x="0" dy="4.2">34.7</tspan><tspan x="0" dy="4.2">36.0</tspan><tspan x="0" dy="4.2">37.2</tspan><tspan x="0" dy="4.2">38.5</tspan><tspan x="0" dy="4.2">39.7</tspan><tspan x="0" dy="4.2">41.0</tspan><tspan x="0" dy="4.2">42.2</tspan><tspan x="0" dy="4.2">43.5</tspan><tspan x="0" dy="4.2">44.7</tspan><tspan x="0" dy="4.2">46.0</tspan><tspan x="0" dy="4.2">47.2</tspan><tspan x="0" dy="4.2">48.5</tspan><tspan x="0" dy="4.2">49.7</tspan><tspan x="0" dy="4.2">51.0</tspan><tspan x="0" dy="4.2">52.2</tspan><tspan x="0" dy="4.2">53.5</tspan><tspan x="0" dy="4.2">54.7</tspan><tspan x="0" dy="4.2">56.0</tspan><tspan x="0" dy="4.2">57.2</tspan><tspan x="0" dy="4.2">58.5</tspan><tspan x="0" dy="4.2">59.7</tspan><tspan x="0" dy="4.2">61.0</tspan><tspan x="0" dy="4.2">62.2</tspan><tspan x="0" dy="4.2">63.5</tspan><tspan x="0" dy="4.2">64.7</tspan><tspan x="0" dy="4.2">66.0</tspan><tspan x="0" dy="4.2">67.2</tspan><tspan x="0" dy="4.2">68.5</tspan><tspan x="0" dy="4.2">69.7</tspan><tspan x="0" dy="4.2">71.0</tspan><tspan x="0" dy="4.2">72.2</tspan><tspan x="0" dy="4.2">73.5</tspan><tspan x="0" dy="4.2">74.7</tspan><tspan x="0" dy="4.2">76.0</tspan><tspan x="0" dy="4.2">77.2</tspan><tspan x="0" dy="4.2">78.5</tspan><tspan x="0" dy="4.2">79.7</tspan><tspan x="0" dy="4.2">81.0</tspan><tspan x="0" dy="4.2">82.2</tspan><tspan x="0" dy="4.2">83.5</tspan><tspan x="0" dy="4.2">84.7</tspan><tspan x="0" dy="4.2">86.0</tspan><tspan x="0" dy="4.2">87.2</tspan><tspan x="0" dy="4.2">88.5</tspan><tspan x="0" dy="4.2">89.7</tspan><tspan x="0" dy="4.2">91.0</tspan><tspan x="0" dy="4.2">92.2</tspan><tspan x="0" dy="4.2">93.5</tspan><tspan x="0" dy="4.2">94.7</tspan><tspan x="0" dy="4.2">96.0</tspan><tspan x="0" dy="4.2">97.2</tspan><tspan x="0" dy="4.2">99.1</tspan><tspan x="0" dy="4.2">101.3</tspan><tspan x="0" dy="4.2">103.5</tspan><tspan x="0" dy="4.2">105.8</tspan><tspan x="0" dy="4.2">108.0</tspan><tspan x="0" dy="4.2">110.4</tspan><tspan x="0" dy="4.2">112.7</tspan><tspan x="0" dy="4.2">115.1</tspan><tspan x="0" dy="4.2">117.6</tspan><tspan x="0" dy="4.2">120.2</tspan><tspan x="0" dy="4.2">122.9</tspan><tspan x="0" dy="4.2">125.7</tspan><tspan x="0" dy="4.2">128.6</tspan></text>
<text class="L" transform="translate(739,104)">
<tspan x="0" dy="4.2">S1_18373036-A</tspan>
<tspan x="0" dy="4.2" class="b">ASNP2201-G</tspan>
<tspan x="0" dy="4.2" class="b">ASNP1303-G</tspan>
<tspan x="0" dy="4.2">S1_06063909-A</tspan>
<tspan x="0" dy="4.2">S1_06070711-A</tspan>
<tspan x="0" dy="4.2">ASNP1148-A</tspan>
<tspan x="0" dy="4.2">ASNP408-A</tspan>
<tspan x="0" dy="4.2">ASNP1501-A</tspan>
<tspan x="0" dy="4.2">S1_28253981-A</tspan>
<tspan x="0" dy="4.2">S1_13343508-A</tspan>
<tspan x="0" dy="4.2">ASNP1821-A</tspan>
<tspan x="0" dy="4.2">ASNP1357-A</tspan>
<tspan x="0" dy="4.2">ASNP1321-A</tspan>
<tspan x="0" dy="4.2">ASNP112-A</tspan>
<tspan x="0" dy="4.2" class="b">ASNP480-G</tspan>
<tspan x="0" dy="4.2">S1_28305889-A</tspan>
<tspan x="0" dy="4.2">ASNP448-A</tspan>
<tspan x="0" dy="4.2">ASNP1081-A</tspan>
<tspan x="0" dy="4.2">ASNP188-A</tspan>
<tspan x="0" dy="4.2">S1_13549703-A</tspan>
<tspan x="0" dy="4.2" class="b">ASNP1872-G</tspan>
<tspan x="0" dy="4.2">S1_28640281-A <tspan class="b">ASNP2171-G</tspan></tspan>
<tspan x="0" dy="4.2">S1_28640160-A</tspan>
<tspan x="0" dy="4.2" class="b">ASSR1721-G</tspan>
<tspan x="0" dy="4.2">S1_28640277-A</tspan>
<tspan x="0" dy="4.2" class="m">ASNP2061-RA</tspan>
<tspan x="0" dy="4.2" class="b">ASNP1255-G</tspan>
<tspan x="0" dy="4.2">ASNP2193-A</tspan>
<tspan x="0" dy="4.2">ASNP2241-A</tspan>
<tspan x="0" dy="4.2">ASSR-15-A</tspan>
<tspan x="0" dy="4.2">S1_18634983-A</tspan>
<tspan x="0" dy="4.2">ASSR1-A</tspan>
<tspan x="0" dy="4.2">ASNP1250-A</tspan>
<tspan x="0" dy="4.2" class="c">ASNP1216-GA</tspan>
<tspan x="0" dy="4.2" class="k">ASNP564-RGA</tspan>
<tspan x="0" dy="4.2" class="k">ASNP1386-RGA</tspan>
<tspan x="0" dy="4.2">S1_22871903-A</tspan>
<tspan x="0" dy="4.2">ASNP1640-A</tspan>
<tspan x="0" dy="4.2" class="b">ASNP2075-G</tspan>
<tspan x="0" dy="4.2">S1_14536028-A</tspan>
<tspan x="0" dy="4.2">ASNP933-A</tspan>
<tspan x="0" dy="4.2">S1_31702845-A</tspan>
<tspan x="0" dy="4.2" class="m">ASNP1192-RA</tspan>
<tspan x="0" dy="4.2">ASNP1578-A</tspan>
<tspan x="0" dy="4.2">S1_20418363-A</tspan>
<tspan x="0" dy="4.2">ASNP715-A</tspan>
<tspan x="0" dy="4.2">S1_16903752-A</tspan>
<tspan x="0" dy="4.2" class="b">ASNP1446-G</tspan>
<tspan x="0" dy="4.2">ASNP2009-A</tspan>
<tspan x="0" dy="4.2">S1_27365014-A</tspan>
<tspan x="0" dy="4.2">ASNP1163-A</tspan>
<tspan x="0" dy="4.2">S1_12280497-A</tspan>
<tspan x="0" dy="4.2" class="o">ASNP1759-RG</tspan>
<tspan x="0" dy="4.2">ASNP877-A</tspan>
<tspan x="0" dy="4.2">S1_34810526-A</tspan>
<tspan x="0" dy="4.2">ASNP1305-A</tspan>
<tspan x="0" dy="4.2">S1_23018664-A</tspan>
<tspan x="0" dy="4.2" class="m">ASNP1908-RA</tspan>
<tspan x="0" dy="4.2">ASNP540-A</tspan>
<tspan x="0" dy="4.2">S1_18747132-A</tspan>
<tspan x="0" dy="4.2">ASNP1684-A</tspan>
<tspan x="0" dy="4.2">S1_29453801-A</tspan>
<tspan x="0" dy="4.2" class="b">ASNP1237-G</tspan>
<tspan x="0" dy="4.2">ASNP2152-A</tspan>
<tspan x="0" dy="4.2">S1_15127690-A</tspan>
<tspan x="0" dy="4.2">ASNP1014-A</tspan>
<tspan x="0" dy="4.2">S1_40391286-A</tspan>
<tspan x="0" dy="4.2" class="m">ASNP1549-RA</tspan>
<tspan x="0" dy="4.2">ASNP823-A</tspan>
<tspan x="0" dy="4.2">S1_21639054-A</tspan>
<tspan x="0" dy="4.2">ASNP1967-A</tspan>
<tspan x="0" dy="4.2">S1_13580417-A</tspan>
<tspan x="0" dy="4.2" class="b">ASNP1108-G</tspan>
<tspan x="0" dy="4.2">ASNP2263-A</tspan>
<tspan x="0" dy="4.2">S1_26805923-A</tspan>
<tspan x="0" dy="4.2">ASNP658-A</tspan>
<tspan x="0" dy="4.2">S1_32147706-A</tspan>
<tspan x="0" dy="4.2" class="k">ASNP1426-RGA</tspan>
<tspan x="0" dy="4.2">ASNP1730-A</tspan>
<tspan x="0" dy="4.2">S1_19084315-A</tspan>
<tspan x="0" dy="4.2">ASNP1285-A</tspan>
<tspan x="0" dy="4.2">S1_24670982-A</tspan>
<tspan x="0" dy="4.2" class="b">ASNP2028-G</tspan>
<tspan x="0" dy="4.2">ASNP1471-A</tspan>
<tspan x="0" dy="4.2">S1_11736540-A</tspan>
<tspan x="0" dy="4.2" class="m">ASNP1875-RA</tspan>
<tspan x="0" dy="4.2">ASNP1019-A</tspan>
<tspan x="0" dy="4.2">S1_30527418-A</tspan>
<tspan x="0" dy="4.2">ASNP2235-A</tspan>
<tspan x="0" dy="4.2">S1_17289651-A</tspan>
<tspan x="0" dy="4.2" class="b">ASNP1362-G</tspan>
<tspan x="0" dy="4.2">ASNP746-A</tspan>
<tspan x="0" dy="4.2">S1_25904163-A</tspan>
<tspan x="0" dy="4.2">ASNP1602-A</tspan>
</text>
</g>
<g id="qtl">
<rect x="285.5" y="217" width="3" height="8" fill="#1f9a4b"/>
<rect x="292" y="218" width="3" height="9" fill="#e02020"/>
<rect x="302" y="217" width="3" height="10" fill="#3535c0"/>
<rect x="286" y="233" width="3.5" height="9" fill="#f08a24"/>
<rect x="367" y="387" width="3" height="8" fill="#3535c0"/>
<rect x="362" y="395" width="3" height="10" fill="#1f9a4b"/>
<rect x="368" y="398" width="3" height="9" fill="#e040e0"/>
<rect x="374" y="400" width="3" height="9" fill="#e02020"/>
<rect x="362" y="407" width="3.5" height="8" fill="#f08a24"/>
</g>
<g id="legend">
<rect x="504" y="516.5" width="5" height="5" fill="#d81f26"/>
<rect x="504" y="534.5" width="5" height="5" fill="#1c9b4c"/>
<rect x="504" y="552.5" width="5" height="5" fill="#3b3bb8"/>
<rect x="504" y="570.5" width="5" height="5" fill="#8b5a2b"/>
<rect x="504" y="587.5" width="5" height="5" fill="#a9c46c"/>
<rect x="504" y="605.5" width="5" height="5" fill="#e066e0"/>
<rect x="504" y="623.5" width="5" height="5" fill="#111"/>
<text class="lg" x="517" y="522">Asha/UPAS-120 (A)</text>
<text class="lg" x="517" y="540">Pusa Dwarf/H2001-4 (R)</text>
<text class="lg" x="517" y="558">Pusa Dwarf/HDM04-1 (G)</text>
<text class="lg" x="517" y="576">GA – Markers common between Population G &amp; A</text>
<text class="lg" x="517" y="593">RG – Markers common between Population R &amp; G</text>
<text class="lg" x="517" y="611">RA – Markers common between Population R &amp; A</text>
<text class="lg" x="517" y="629">RGA – Markers common between Populations R, G &amp; A</text>
</g>
</svg>
